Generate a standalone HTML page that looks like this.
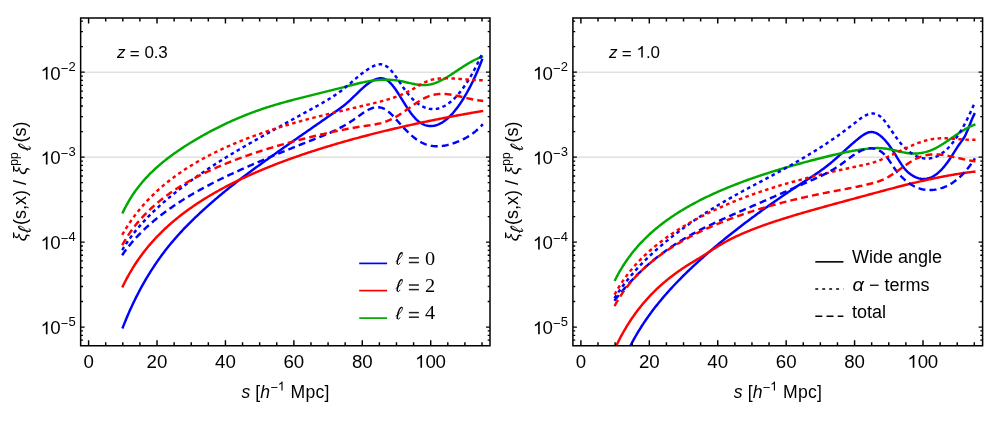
<!DOCTYPE html>
<html><head><meta charset="utf-8"><title>chart</title>
<style>html,body{margin:0;padding:0;background:#fff}</style></head>
<body><svg width="995" height="425" viewBox="0 0 995 425" style="display:block;will-change:transform">
<rect width="995" height="425" fill="#fff"/>
<g style="font-family:'Liberation Sans',sans-serif" fill="#000">
<line x1="80.65" x2="490.0" y1="72.20" y2="72.20" stroke="#d3d3d3" stroke-width="1"/>
<line x1="80.65" x2="490.0" y1="157.15" y2="157.15" stroke="#d3d3d3" stroke-width="1"/>
<clipPath id="cL"><rect x="80.65" y="18.0" width="409.35" height="327.75"/></clipPath>
<g clip-path="url(#cL)" fill="none" stroke-width="2.45" stroke-linecap="butt" stroke-linejoin="round">
<path d="M122.37,328.50 L122.81,327.39 L123.81,324.85 L124.81,322.36 L125.81,319.92 L126.81,317.52 L127.81,315.18 L128.81,312.87 L129.81,310.61 L130.81,308.40 L131.82,306.22 L132.82,304.08 L133.82,301.98 L134.82,299.92 L135.82,297.89 L136.82,295.90 L137.82,293.94 L138.82,292.02 L139.82,290.13 L140.82,288.27 L141.82,286.44 L142.82,284.63 L143.82,282.86 L144.82,281.12 L145.82,279.40 L146.82,277.71 L147.82,276.04 L148.82,274.40 L149.83,272.78 L150.83,271.19 L151.83,269.62 L152.83,268.08 L153.83,266.55 L154.83,265.05 L155.83,263.57 L156.83,262.11 L157.83,260.67 L158.83,259.25 L159.83,257.84 L160.83,256.46 L161.83,255.10 L162.83,253.75 L163.83,252.42 L164.83,251.11 L165.83,249.81 L166.84,248.53 L167.84,247.27 L168.84,246.02 L169.84,244.79 L170.84,243.57 L171.84,242.37 L172.84,241.18 L173.84,240.01 L174.84,238.85 L175.84,237.70 L176.84,236.57 L177.84,235.44 L178.84,234.34 L179.84,233.24 L180.84,232.16 L181.84,231.08 L182.84,230.02 L183.84,228.96 L184.85,227.92 L185.85,226.88 L186.85,225.86 L187.85,224.84 L188.85,223.83 L189.85,222.83 L190.85,221.84 L191.85,220.85 L192.85,219.87 L193.85,218.90 L194.85,217.93 L195.85,216.97 L196.85,216.02 L197.85,215.07 L198.85,214.13 L199.85,213.20 L200.85,212.27 L201.86,211.34 L202.86,210.42 L203.86,209.51 L204.86,208.60 L205.86,207.70 L206.86,206.80 L207.86,205.90 L208.86,205.02 L209.86,204.13 L210.86,203.25 L211.86,202.38 L212.86,201.51 L213.86,200.64 L214.86,199.78 L215.86,198.93 L216.86,198.07 L217.86,197.23 L218.86,196.38 L219.87,195.54 L220.87,194.71 L221.87,193.88 L222.87,193.05 L223.87,192.22 L224.87,191.40 L225.87,190.59 L226.87,189.78 L227.87,188.97 L228.87,188.16 L229.87,187.36 L230.87,186.56 L231.87,185.77 L232.87,184.98 L233.87,184.19 L234.87,183.41 L235.87,182.63 L236.88,181.85 L237.88,181.07 L238.88,180.30 L239.88,179.54 L240.88,178.77 L241.88,178.01 L242.88,177.25 L243.88,176.49 L244.88,175.74 L245.88,174.98 L246.88,174.23 L247.88,173.49 L248.88,172.74 L249.88,172.00 L250.88,171.26 L251.88,170.52 L252.88,169.78 L253.88,169.05 L254.89,168.31 L255.89,167.58 L256.89,166.85 L257.89,166.12 L258.89,165.39 L259.89,164.67 L260.89,163.94 L261.89,163.22 L262.89,162.50 L263.89,161.78 L264.89,161.06 L265.89,160.34 L266.89,159.63 L267.89,158.91 L268.89,158.20 L269.89,157.48 L270.89,156.77 L271.90,156.06 L272.90,155.35 L273.90,154.64 L274.90,153.93 L275.90,153.22 L276.90,152.51 L277.90,151.80 L278.90,151.10 L279.90,150.39 L280.90,149.69 L281.90,148.98 L282.90,148.28 L283.90,147.57 L284.90,146.87 L285.90,146.17 L286.90,145.47 L287.90,144.76 L288.90,144.06 L289.91,143.36 L290.91,142.66 L291.91,141.96 L292.91,141.26 L293.91,140.56 L294.91,139.86 L295.91,139.17 L296.91,138.47 L297.91,137.77 L298.91,137.07 L299.91,136.37 L300.91,135.67 L301.91,134.98 L302.91,134.28 L303.91,133.58 L304.91,132.88 L305.91,132.19 L306.92,131.49 L307.92,130.79 L308.92,130.10 L309.92,129.40 L310.92,128.70 L311.92,128.01 L312.92,127.31 L313.92,126.61 L314.92,125.92 L315.92,125.22 L316.92,124.52 L317.92,123.83 L318.92,123.13 L319.92,122.43 L320.92,121.74 L321.92,121.04 L322.92,120.35 L323.92,119.65 L324.93,118.96 L325.93,118.26 L326.93,117.57 L327.93,116.87 L328.93,116.18 L329.93,115.48 L330.93,114.79 L331.93,114.10 L332.93,113.41 L333.93,112.71 L334.93,112.02 L335.93,111.33 L336.93,110.64 L337.93,109.94 L338.93,109.24 L339.93,108.53 L340.93,107.80 L341.94,107.06 L342.94,106.30 L343.94,105.52 L344.94,104.72 L345.94,103.89 L346.94,103.04 L347.94,102.16 L348.94,101.25 L349.94,100.33 L350.94,99.38 L351.94,98.42 L352.94,97.45 L353.94,96.48 L354.94,95.50 L355.94,94.51 L356.94,93.53 L357.94,92.56 L358.94,91.59 L359.95,90.64 L360.95,89.70 L361.95,88.78 L362.95,87.88 L363.95,87.00 L364.95,86.14 L365.95,85.32 L366.95,84.52 L367.95,83.76 L368.95,83.03 L369.95,82.34 L370.95,81.69 L371.95,81.08 L372.95,80.52 L373.95,80.01 L374.95,79.56 L375.95,79.16 L376.96,78.83 L377.96,78.57 L378.96,78.39 L379.96,78.29 L380.96,78.27 L381.96,78.34 L382.96,78.50 L383.96,78.76 L384.96,79.12 L385.96,79.59 L386.96,80.17 L387.96,80.86 L388.96,81.66 L389.96,82.58 L390.96,83.59 L391.96,84.70 L392.96,85.90 L393.96,87.18 L394.97,88.54 L395.97,89.96 L396.97,91.44 L397.97,92.97 L398.97,94.55 L399.97,96.15 L400.97,97.77 L401.97,99.41 L402.97,101.04 L403.97,102.66 L404.97,104.27 L405.97,105.84 L406.97,107.39 L407.97,108.90 L408.97,110.37 L409.97,111.80 L410.97,113.17 L411.98,114.48 L412.98,115.74 L413.98,116.93 L414.98,118.05 L415.98,119.09 L416.98,120.05 L417.98,120.94 L418.98,121.75 L419.98,122.48 L420.98,123.14 L421.98,123.72 L422.98,124.24 L423.98,124.69 L424.98,125.07 L425.98,125.38 L426.98,125.63 L427.98,125.82 L428.98,125.95 L429.99,126.02 L430.99,126.03 L431.99,125.99 L432.99,125.89 L433.99,125.74 L434.99,125.53 L435.99,125.27 L436.99,124.96 L437.99,124.59 L438.99,124.17 L439.99,123.70 L440.99,123.17 L441.99,122.59 L442.99,121.97 L443.99,121.29 L444.99,120.56 L445.99,119.78 L447.00,118.96 L448.00,118.08 L449.00,117.15 L450.00,116.18 L451.00,115.15 L452.00,114.08 L453.00,112.97 L454.00,111.80 L455.00,110.59 L456.00,109.33 L457.00,108.03 L458.00,106.67 L459.00,105.28 L460.00,103.84 L461.00,102.35 L462.00,100.82 L463.00,99.25 L464.00,97.63 L465.01,95.96 L466.01,94.25 L467.01,92.49 L468.01,90.69 L469.01,88.84 L470.01,86.93 L471.01,84.98 L472.01,82.97 L473.01,80.91 L474.01,78.80 L475.01,76.63 L476.01,74.41 L477.01,72.14 L478.01,69.80 L479.01,67.41 L480.01,64.97 L481.01,62.46 L482.01,59.89 L482.45,58.77" stroke="#0000ff"/>
<path d="M122.29,287.41 L122.81,286.33 L123.81,284.27 L124.81,282.26 L125.81,280.31 L126.81,278.40 L127.81,276.55 L128.81,274.75 L129.81,272.99 L130.81,271.27 L131.82,269.59 L132.82,267.95 L133.82,266.35 L134.82,264.78 L135.82,263.25 L136.82,261.75 L137.82,260.28 L138.82,258.84 L139.82,257.43 L140.82,256.04 L141.82,254.68 L142.82,253.35 L143.82,252.04 L144.82,250.75 L145.82,249.49 L146.82,248.25 L147.82,247.03 L148.82,245.83 L149.83,244.65 L150.83,243.49 L151.83,242.35 L152.83,241.22 L153.83,240.12 L154.83,239.03 L155.83,237.95 L156.83,236.90 L157.83,235.85 L158.83,234.83 L159.83,233.81 L160.83,232.81 L161.83,231.83 L162.83,230.85 L163.83,229.90 L164.83,228.95 L165.83,228.01 L166.84,227.09 L167.84,226.18 L168.84,225.28 L169.84,224.39 L170.84,223.52 L171.84,222.65 L172.84,221.79 L173.84,220.94 L174.84,220.11 L175.84,219.28 L176.84,218.46 L177.84,217.65 L178.84,216.85 L179.84,216.06 L180.84,215.28 L181.84,214.51 L182.84,213.74 L183.84,212.98 L184.85,212.23 L185.85,211.49 L186.85,210.75 L187.85,210.03 L188.85,209.31 L189.85,208.59 L190.85,207.89 L191.85,207.19 L192.85,206.49 L193.85,205.81 L194.85,205.13 L195.85,204.45 L196.85,203.79 L197.85,203.12 L198.85,202.47 L199.85,201.82 L200.85,201.18 L201.86,200.54 L202.86,199.91 L203.86,199.28 L204.86,198.66 L205.86,198.04 L206.86,197.43 L207.86,196.82 L208.86,196.22 L209.86,195.62 L210.86,195.03 L211.86,194.45 L212.86,193.86 L213.86,193.29 L214.86,192.71 L215.86,192.15 L216.86,191.58 L217.86,191.02 L218.86,190.47 L219.87,189.91 L220.87,189.37 L221.87,188.82 L222.87,188.28 L223.87,187.75 L224.87,187.22 L225.87,186.69 L226.87,186.17 L227.87,185.65 L228.87,185.13 L229.87,184.62 L230.87,184.11 L231.87,183.60 L232.87,183.10 L233.87,182.60 L234.87,182.11 L235.87,181.61 L236.88,181.13 L237.88,180.64 L238.88,180.16 L239.88,179.68 L240.88,179.20 L241.88,178.73 L242.88,178.26 L243.88,177.79 L244.88,177.33 L245.88,176.87 L246.88,176.41 L247.88,175.95 L248.88,175.50 L249.88,175.05 L250.88,174.60 L251.88,174.16 L252.88,173.72 L253.88,173.28 L254.89,172.84 L255.89,172.41 L256.89,171.98 L257.89,171.55 L258.89,171.12 L259.89,170.70 L260.89,170.28 L261.89,169.86 L262.89,169.44 L263.89,169.02 L264.89,168.61 L265.89,168.20 L266.89,167.80 L267.89,167.39 L268.89,166.99 L269.89,166.59 L270.89,166.19 L271.90,165.79 L272.90,165.40 L273.90,165.00 L274.90,164.61 L275.90,164.22 L276.90,163.84 L277.90,163.45 L278.90,163.07 L279.90,162.69 L280.90,162.31 L281.90,161.94 L282.90,161.56 L283.90,161.19 L284.90,160.82 L285.90,160.45 L286.90,160.08 L287.90,159.72 L288.90,159.35 L289.91,158.99 L290.91,158.63 L291.91,158.27 L292.91,157.92 L293.91,157.56 L294.91,157.21 L295.91,156.86 L296.91,156.51 L297.91,156.16 L298.91,155.81 L299.91,155.47 L300.91,155.12 L301.91,154.78 L302.91,154.44 L303.91,154.10 L304.91,153.77 L305.91,153.43 L306.92,153.10 L307.92,152.76 L308.92,152.43 L309.92,152.10 L310.92,151.78 L311.92,151.45 L312.92,151.12 L313.92,150.80 L314.92,150.48 L315.92,150.16 L316.92,149.84 L317.92,149.52 L318.92,149.20 L319.92,148.89 L320.92,148.57 L321.92,148.26 L322.92,147.95 L323.92,147.64 L324.93,147.33 L325.93,147.02 L326.93,146.72 L327.93,146.41 L328.93,146.11 L329.93,145.81 L330.93,145.51 L331.93,145.21 L332.93,144.91 L333.93,144.61 L334.93,144.32 L335.93,144.02 L336.93,143.73 L337.93,143.44 L338.93,143.15 L339.93,142.86 L340.93,142.57 L341.94,142.28 L342.94,141.99 L343.94,141.71 L344.94,141.43 L345.94,141.14 L346.94,140.86 L347.94,140.58 L348.94,140.30 L349.94,140.02 L350.94,139.75 L351.94,139.47 L352.94,139.19 L353.94,138.92 L354.94,138.65 L355.94,138.38 L356.94,138.10 L357.94,137.83 L358.94,137.57 L359.95,137.30 L360.95,137.03 L361.95,136.77 L362.95,136.50 L363.95,136.24 L364.95,135.98 L365.95,135.71 L366.95,135.45 L367.95,135.19 L368.95,134.94 L369.95,134.68 L370.95,134.42 L371.95,134.17 L372.95,133.91 L373.95,133.66 L374.95,133.40 L375.95,133.15 L376.96,132.90 L377.96,132.65 L378.96,132.40 L379.96,132.15 L380.96,131.91 L381.96,131.66 L382.96,131.41 L383.96,131.17 L384.96,130.93 L385.96,130.68 L386.96,130.44 L387.96,130.20 L388.96,129.96 L389.96,129.72 L390.96,129.48 L391.96,129.24 L392.96,129.01 L393.96,128.77 L394.97,128.53 L395.97,128.30 L396.97,128.07 L397.97,127.83 L398.97,127.60 L399.97,127.37 L400.97,127.14 L401.97,126.91 L402.97,126.68 L403.97,126.45 L404.97,126.23 L405.97,126.00 L406.97,125.77 L407.97,125.55 L408.97,125.33 L409.97,125.10 L410.97,124.88 L411.98,124.66 L412.98,124.44 L413.98,124.22 L414.98,124.00 L415.98,123.78 L416.98,123.56 L417.98,123.35 L418.98,123.13 L419.98,122.91 L420.98,122.70 L421.98,122.49 L422.98,122.27 L423.98,122.06 L424.98,121.85 L425.98,121.64 L426.98,121.43 L427.98,121.22 L428.98,121.01 L429.99,120.81 L430.99,120.60 L431.99,120.40 L432.99,120.19 L433.99,119.99 L434.99,119.78 L435.99,119.58 L436.99,119.38 L437.99,119.18 L438.99,118.98 L439.99,118.78 L440.99,118.58 L441.99,118.38 L442.99,118.19 L443.99,117.99 L444.99,117.80 L445.99,117.60 L447.00,117.41 L448.00,117.21 L449.00,117.02 L450.00,116.83 L451.00,116.64 L452.00,116.45 L453.00,116.26 L454.00,116.07 L455.00,115.89 L456.00,115.70 L457.00,115.51 L458.00,115.33 L459.00,115.14 L460.00,114.96 L461.00,114.78 L462.00,114.60 L463.00,114.42 L464.00,114.23 L465.01,114.06 L466.01,113.88 L467.01,113.70 L468.01,113.52 L469.01,113.34 L470.01,113.17 L471.01,112.99 L472.01,112.82 L473.01,112.64 L474.01,112.47 L475.01,112.30 L476.01,112.13 L477.01,111.96 L478.01,111.79 L479.01,111.62 L480.01,111.45 L481.01,111.28 L482.01,111.12 L483.20,110.92" stroke="#ff0000"/>
<path d="M122.29,213.58 L122.81,212.49 L123.81,210.40 L124.81,208.39 L125.81,206.46 L126.81,204.60 L127.81,202.81 L128.81,201.07 L129.81,199.40 L130.81,197.78 L131.82,196.21 L132.82,194.68 L133.82,193.20 L134.82,191.77 L135.82,190.37 L136.82,189.01 L137.82,187.69 L138.82,186.40 L139.82,185.14 L140.82,183.91 L141.82,182.71 L142.82,181.54 L143.82,180.39 L144.82,179.27 L145.82,178.17 L146.82,177.09 L147.82,176.04 L148.82,175.00 L149.83,173.98 L150.83,172.99 L151.83,172.01 L152.83,171.05 L153.83,170.10 L154.83,169.17 L155.83,168.25 L156.83,167.35 L157.83,166.47 L158.83,165.59 L159.83,164.73 L160.83,163.88 L161.83,163.05 L162.83,162.22 L163.83,161.41 L164.83,160.61 L165.83,159.82 L166.84,159.03 L167.84,158.26 L168.84,157.50 L169.84,156.74 L170.84,156.00 L171.84,155.26 L172.84,154.53 L173.84,153.81 L174.84,153.10 L175.84,152.39 L176.84,151.69 L177.84,151.00 L178.84,150.32 L179.84,149.64 L180.84,148.97 L181.84,148.30 L182.84,147.64 L183.84,146.99 L184.85,146.34 L185.85,145.70 L186.85,145.07 L187.85,144.44 L188.85,143.81 L189.85,143.19 L190.85,142.57 L191.85,141.96 L192.85,141.36 L193.85,140.76 L194.85,140.16 L195.85,139.57 L196.85,138.98 L197.85,138.40 L198.85,137.82 L199.85,137.24 L200.85,136.67 L201.86,136.10 L202.86,135.53 L203.86,134.97 L204.86,134.42 L205.86,133.86 L206.86,133.32 L207.86,132.77 L208.86,132.23 L209.86,131.69 L210.86,131.16 L211.86,130.63 L212.86,130.11 L213.86,129.59 L214.86,129.07 L215.86,128.56 L216.86,128.05 L217.86,127.54 L218.86,127.04 L219.87,126.55 L220.87,126.05 L221.87,125.56 L222.87,125.08 L223.87,124.60 L224.87,124.12 L225.87,123.65 L226.87,123.18 L227.87,122.71 L228.87,122.25 L229.87,121.80 L230.87,121.34 L231.87,120.89 L232.87,120.45 L233.87,120.01 L234.87,119.57 L235.87,119.13 L236.88,118.70 L237.88,118.28 L238.88,117.85 L239.88,117.43 L240.88,117.02 L241.88,116.61 L242.88,116.20 L243.88,115.79 L244.88,115.39 L245.88,115.00 L246.88,114.60 L247.88,114.21 L248.88,113.82 L249.88,113.44 L250.88,113.06 L251.88,112.69 L252.88,112.31 L253.88,111.94 L254.89,111.58 L255.89,111.22 L256.89,110.86 L257.89,110.50 L258.89,110.15 L259.89,109.80 L260.89,109.45 L261.89,109.11 L262.89,108.77 L263.89,108.44 L264.89,108.10 L265.89,107.77 L266.89,107.45 L267.89,107.12 L268.89,106.80 L269.89,106.49 L270.89,106.17 L271.90,105.86 L272.90,105.55 L273.90,105.25 L274.90,104.95 L275.90,104.65 L276.90,104.35 L277.90,104.06 L278.90,103.77 L279.90,103.48 L280.90,103.20 L281.90,102.91 L282.90,102.63 L283.90,102.36 L284.90,102.08 L285.90,101.81 L286.90,101.53 L287.90,101.26 L288.90,100.99 L289.91,100.73 L290.91,100.46 L291.91,100.20 L292.91,99.93 L293.91,99.67 L294.91,99.41 L295.91,99.15 L296.91,98.90 L297.91,98.64 L298.91,98.38 L299.91,98.13 L300.91,97.87 L301.91,97.62 L302.91,97.37 L303.91,97.12 L304.91,96.87 L305.91,96.61 L306.92,96.36 L307.92,96.11 L308.92,95.87 L309.92,95.62 L310.92,95.37 L311.92,95.12 L312.92,94.87 L313.92,94.62 L314.92,94.37 L315.92,94.13 L316.92,93.88 L317.92,93.63 L318.92,93.38 L319.92,93.13 L320.92,92.89 L321.92,92.64 L322.92,92.39 L323.92,92.14 L324.93,91.89 L325.93,91.64 L326.93,91.39 L327.93,91.14 L328.93,90.89 L329.93,90.64 L330.93,90.39 L331.93,90.14 L332.93,89.89 L333.93,89.63 L334.93,89.38 L335.93,89.13 L336.93,88.87 L337.93,88.62 L338.93,88.36 L339.93,88.10 L340.93,87.85 L341.94,87.59 L342.94,87.33 L343.94,87.07 L344.94,86.81 L345.94,86.55 L346.94,86.29 L347.94,86.03 L348.94,85.76 L349.94,85.50 L350.94,85.25 L351.94,84.99 L352.94,84.73 L353.94,84.48 L354.94,84.23 L355.94,83.98 L356.94,83.74 L357.94,83.50 L358.94,83.27 L359.95,83.04 L360.95,82.81 L361.95,82.59 L362.95,82.38 L363.95,82.17 L364.95,81.97 L365.95,81.78 L366.95,81.59 L367.95,81.41 L368.95,81.24 L369.95,81.07 L370.95,80.92 L371.95,80.77 L372.95,80.63 L373.95,80.50 L374.95,80.38 L375.95,80.27 L376.96,80.16 L377.96,80.07 L378.96,79.99 L379.96,79.92 L380.96,79.86 L381.96,79.81 L382.96,79.77 L383.96,79.74 L384.96,79.72 L385.96,79.71 L386.96,79.72 L387.96,79.74 L388.96,79.77 L389.96,79.81 L390.96,79.86 L391.96,79.93 L392.96,80.01 L393.96,80.10 L394.97,80.21 L395.97,80.32 L396.97,80.46 L397.97,80.60 L398.97,80.76 L399.97,80.93 L400.97,81.12 L401.97,81.32 L402.97,81.53 L403.97,81.75 L404.97,81.98 L405.97,82.21 L406.97,82.45 L407.97,82.69 L408.97,82.92 L409.97,83.16 L410.97,83.39 L411.98,83.61 L412.98,83.82 L413.98,84.02 L414.98,84.21 L415.98,84.39 L416.98,84.55 L417.98,84.69 L418.98,84.81 L419.98,84.91 L420.98,84.99 L421.98,85.05 L422.98,85.07 L423.98,85.08 L424.98,85.05 L425.98,84.99 L426.98,84.90 L427.98,84.78 L428.98,84.63 L429.99,84.45 L430.99,84.24 L431.99,84.00 L432.99,83.73 L433.99,83.43 L434.99,83.10 L435.99,82.74 L436.99,82.35 L437.99,81.93 L438.99,81.48 L439.99,81.01 L440.99,80.52 L441.99,80.01 L442.99,79.48 L443.99,78.93 L444.99,78.36 L445.99,77.78 L447.00,77.18 L448.00,76.57 L449.00,75.95 L450.00,75.32 L451.00,74.68 L452.00,74.03 L453.00,73.37 L454.00,72.71 L455.00,72.05 L456.00,71.39 L457.00,70.72 L458.00,70.05 L459.00,69.39 L460.00,68.72 L461.00,68.06 L462.00,67.41 L463.00,66.76 L464.00,66.11 L465.01,65.48 L466.01,64.85 L467.01,64.23 L468.01,63.62 L469.01,63.03 L470.01,62.44 L471.01,61.87 L472.01,61.31 L473.01,60.77 L474.01,60.25 L475.01,59.74 L476.01,59.25 L477.01,58.78 L478.01,58.32 L479.01,57.89 L480.01,57.48 L481.01,57.09 L482.01,56.73 L483.14,56.32" stroke="#00a800"/>
<path d="M122.18,250.08 L122.81,249.06 L123.81,247.42 L124.81,245.83 L125.81,244.28 L126.81,242.78 L127.81,241.31 L128.81,239.87 L129.81,238.47 L130.81,237.10 L131.82,235.75 L132.82,234.44 L133.82,233.15 L134.82,231.88 L135.82,230.64 L136.82,229.42 L137.82,228.22 L138.82,227.04 L139.82,225.88 L140.82,224.74 L141.82,223.62 L142.82,222.51 L143.82,221.41 L144.82,220.34 L145.82,219.28 L146.82,218.23 L147.82,217.19 L148.82,216.17 L149.83,215.16 L150.83,214.16 L151.83,213.17 L152.83,212.20 L153.83,211.23 L154.83,210.28 L155.83,209.34 L156.83,208.40 L157.83,207.48 L158.83,206.56 L159.83,205.65 L160.83,204.75 L161.83,203.86 L162.83,202.98 L163.83,202.11 L164.83,201.24 L165.83,200.38 L166.84,199.53 L167.84,198.68 L168.84,197.84 L169.84,197.01 L170.84,196.18 L171.84,195.36 L172.84,194.55 L173.84,193.74 L174.84,192.94 L175.84,192.14 L176.84,191.35 L177.84,190.57 L178.84,189.78 L179.84,189.01 L180.84,188.24 L181.84,187.47 L182.84,186.71 L183.84,185.96 L184.85,185.21 L185.85,184.46 L186.85,183.72 L187.85,182.98 L188.85,182.25 L189.85,181.52 L190.85,180.79 L191.85,180.07 L192.85,179.36 L193.85,178.64 L194.85,177.93 L195.85,177.23 L196.85,176.53 L197.85,175.83 L198.85,175.13 L199.85,174.44 L200.85,173.75 L201.86,173.07 L202.86,172.39 L203.86,171.71 L204.86,171.03 L205.86,170.36 L206.86,169.69 L207.86,169.03 L208.86,168.37 L209.86,167.71 L210.86,167.05 L211.86,166.40 L212.86,165.74 L213.86,165.10 L214.86,164.45 L215.86,163.81 L216.86,163.17 L217.86,162.53 L218.86,161.90 L219.87,161.26 L220.87,160.63 L221.87,160.01 L222.87,159.38 L223.87,158.76 L224.87,158.14 L225.87,157.52 L226.87,156.91 L227.87,156.29 L228.87,155.68 L229.87,155.07 L230.87,154.47 L231.87,153.86 L232.87,153.26 L233.87,152.66 L234.87,152.06 L235.87,151.47 L236.88,150.88 L237.88,150.28 L238.88,149.69 L239.88,149.11 L240.88,148.52 L241.88,147.94 L242.88,147.35 L243.88,146.77 L244.88,146.19 L245.88,145.61 L246.88,145.04 L247.88,144.46 L248.88,143.89 L249.88,143.31 L250.88,142.74 L251.88,142.17 L252.88,141.60 L253.88,141.03 L254.89,140.46 L255.89,139.90 L256.89,139.33 L257.89,138.76 L258.89,138.20 L259.89,137.64 L260.89,137.07 L261.89,136.51 L262.89,135.95 L263.89,135.39 L264.89,134.83 L265.89,134.27 L266.89,133.71 L267.89,133.15 L268.89,132.59 L269.89,132.04 L270.89,131.48 L271.90,130.92 L272.90,130.36 L273.90,129.81 L274.90,129.25 L275.90,128.70 L276.90,128.14 L277.90,127.59 L278.90,127.03 L279.90,126.48 L280.90,125.93 L281.90,125.37 L282.90,124.82 L283.90,124.26 L284.90,123.71 L285.90,123.16 L286.90,122.61 L287.90,122.05 L288.90,121.50 L289.91,120.95 L290.91,120.40 L291.91,119.84 L292.91,119.29 L293.91,118.74 L294.91,118.19 L295.91,117.63 L296.91,117.08 L297.91,116.53 L298.91,115.98 L299.91,115.42 L300.91,114.87 L301.91,114.32 L302.91,113.77 L303.91,113.21 L304.91,112.66 L305.91,112.11 L306.92,111.56 L307.92,111.00 L308.92,110.45 L309.92,109.90 L310.92,109.35 L311.92,108.79 L312.92,108.24 L313.92,107.69 L314.92,107.13 L315.92,106.58 L316.92,106.02 L317.92,105.47 L318.92,104.91 L319.92,104.35 L320.92,103.78 L321.92,103.22 L322.92,102.64 L323.92,102.06 L324.93,101.48 L325.93,100.89 L326.93,100.29 L327.93,99.69 L328.93,99.07 L329.93,98.45 L330.93,97.82 L331.93,97.18 L332.93,96.53 L333.93,95.87 L334.93,95.20 L335.93,94.52 L336.93,93.82 L337.93,93.12 L338.93,92.40 L339.93,91.67 L340.93,90.92 L341.94,90.16 L342.94,89.39 L343.94,88.61 L344.94,87.81 L345.94,86.99 L346.94,86.16 L347.94,85.32 L348.94,84.47 L349.94,83.61 L350.94,82.75 L351.94,81.89 L352.94,81.02 L353.94,80.16 L354.94,79.30 L355.94,78.44 L356.94,77.59 L357.94,76.75 L358.94,75.93 L359.95,75.11 L360.95,74.31 L361.95,73.52 L362.95,72.75 L363.95,72.01 L364.95,71.28 L365.95,70.57 L366.95,69.89 L367.95,69.23 L368.95,68.60 L369.95,68.00 L370.95,67.43 L371.95,66.89 L372.95,66.38 L373.95,65.91 L374.95,65.48 L375.95,65.10 L376.96,64.79 L377.96,64.55 L378.96,64.39 L379.96,64.31 L380.96,64.33 L381.96,64.45 L382.96,64.67 L383.96,64.99 L384.96,65.43 L385.96,65.96 L386.96,66.61 L387.96,67.38 L388.96,68.25 L389.96,69.23 L390.96,70.30 L391.96,71.45 L392.96,72.68 L393.96,73.97 L394.97,75.32 L395.97,76.71 L396.97,78.14 L397.97,79.60 L398.97,81.08 L399.97,82.57 L400.97,84.06 L401.97,85.54 L402.97,87.01 L403.97,88.45 L404.97,89.87 L405.97,91.24 L406.97,92.56 L407.97,93.83 L408.97,95.05 L409.97,96.21 L410.97,97.32 L411.98,98.38 L412.98,99.38 L413.98,100.33 L414.98,101.24 L415.98,102.09 L416.98,102.89 L417.98,103.64 L418.98,104.34 L419.98,104.99 L420.98,105.59 L421.98,106.15 L422.98,106.65 L423.98,107.11 L424.98,107.52 L425.98,107.88 L426.98,108.19 L427.98,108.46 L428.98,108.68 L429.99,108.85 L430.99,108.97 L431.99,109.04 L432.99,109.07 L433.99,109.05 L434.99,108.98 L435.99,108.87 L436.99,108.70 L437.99,108.49 L438.99,108.24 L439.99,107.93 L440.99,107.58 L441.99,107.18 L442.99,106.74 L443.99,106.25 L444.99,105.71 L445.99,105.13 L447.00,104.50 L448.00,103.82 L449.00,103.10 L450.00,102.33 L451.00,101.52 L452.00,100.66 L453.00,99.75 L454.00,98.80 L455.00,97.81 L456.00,96.77 L457.00,95.68 L458.00,94.55 L459.00,93.37 L460.00,92.15 L461.00,90.88 L462.00,89.57 L463.00,88.21 L464.00,86.81 L465.01,85.36 L466.01,83.87 L467.01,82.34 L468.01,80.76 L469.01,79.14 L470.01,77.47 L471.01,75.76 L472.01,74.01 L473.01,72.21 L474.01,70.37 L475.01,68.48 L476.01,66.56 L477.01,64.59 L478.01,62.57 L479.01,60.52 L480.01,58.42 L481.01,56.28 L482.01,54.09 L482.51,53.00" stroke="#0000ff" stroke-dasharray="3.6 3.35"/>
<path d="M122.20,234.78 L122.81,233.75 L123.81,232.03 L124.81,230.36 L125.81,228.73 L126.81,227.13 L127.81,225.57 L128.81,224.05 L129.81,222.55 L130.81,221.09 L131.82,219.66 L132.82,218.26 L133.82,216.89 L134.82,215.55 L135.82,214.23 L136.82,212.93 L137.82,211.66 L138.82,210.42 L139.82,209.19 L140.82,207.99 L141.82,206.81 L142.82,205.65 L143.82,204.51 L144.82,203.39 L145.82,202.29 L146.82,201.20 L147.82,200.13 L148.82,199.08 L149.83,198.05 L150.83,197.03 L151.83,196.03 L152.83,195.04 L153.83,194.07 L154.83,193.11 L155.83,192.17 L156.83,191.24 L157.83,190.32 L158.83,189.42 L159.83,188.52 L160.83,187.64 L161.83,186.78 L162.83,185.92 L163.83,185.07 L164.83,184.24 L165.83,183.42 L166.84,182.60 L167.84,181.80 L168.84,181.01 L169.84,180.22 L170.84,179.45 L171.84,178.69 L172.84,177.93 L173.84,177.19 L174.84,176.45 L175.84,175.72 L176.84,175.00 L177.84,174.29 L178.84,173.59 L179.84,172.89 L180.84,172.20 L181.84,171.52 L182.84,170.85 L183.84,170.18 L184.85,169.52 L185.85,168.87 L186.85,168.23 L187.85,167.59 L188.85,166.96 L189.85,166.33 L190.85,165.71 L191.85,165.10 L192.85,164.50 L193.85,163.89 L194.85,163.30 L195.85,162.71 L196.85,162.13 L197.85,161.55 L198.85,160.98 L199.85,160.41 L200.85,159.85 L201.86,159.30 L202.86,158.75 L203.86,158.20 L204.86,157.66 L205.86,157.13 L206.86,156.60 L207.86,156.07 L208.86,155.55 L209.86,155.03 L210.86,154.52 L211.86,154.01 L212.86,153.51 L213.86,153.01 L214.86,152.51 L215.86,152.02 L216.86,151.54 L217.86,151.06 L218.86,150.58 L219.87,150.10 L220.87,149.63 L221.87,149.17 L222.87,148.70 L223.87,148.24 L224.87,147.79 L225.87,147.34 L226.87,146.89 L227.87,146.44 L228.87,146.00 L229.87,145.56 L230.87,145.13 L231.87,144.70 L232.87,144.27 L233.87,143.84 L234.87,143.42 L235.87,143.01 L236.88,142.59 L237.88,142.18 L238.88,141.77 L239.88,141.36 L240.88,140.96 L241.88,140.56 L242.88,140.16 L243.88,139.77 L244.88,139.38 L245.88,138.99 L246.88,138.60 L247.88,138.22 L248.88,137.84 L249.88,137.46 L250.88,137.08 L251.88,136.71 L252.88,136.34 L253.88,135.97 L254.89,135.61 L255.89,135.24 L256.89,134.88 L257.89,134.52 L258.89,134.17 L259.89,133.82 L260.89,133.46 L261.89,133.12 L262.89,132.77 L263.89,132.42 L264.89,132.08 L265.89,131.74 L266.89,131.40 L267.89,131.07 L268.89,130.74 L269.89,130.40 L270.89,130.08 L271.90,129.75 L272.90,129.42 L273.90,129.10 L274.90,128.78 L275.90,128.46 L276.90,128.14 L277.90,127.83 L278.90,127.51 L279.90,127.20 L280.90,126.89 L281.90,126.58 L282.90,126.28 L283.90,125.97 L284.90,125.67 L285.90,125.37 L286.90,125.07 L287.90,124.78 L288.90,124.48 L289.91,124.19 L290.91,123.89 L291.91,123.60 L292.91,123.31 L293.91,123.03 L294.91,122.74 L295.91,122.46 L296.91,122.18 L297.91,121.90 L298.91,121.62 L299.91,121.34 L300.91,121.06 L301.91,120.79 L302.91,120.52 L303.91,120.24 L304.91,119.97 L305.91,119.71 L306.92,119.44 L307.92,119.17 L308.92,118.91 L309.92,118.65 L310.92,118.38 L311.92,118.12 L312.92,117.87 L313.92,117.61 L314.92,117.35 L315.92,117.10 L316.92,116.84 L317.92,116.59 L318.92,116.34 L319.92,116.09 L320.92,115.84 L321.92,115.59 L322.92,115.35 L323.92,115.10 L324.93,114.86 L325.93,114.61 L326.93,114.37 L327.93,114.12 L328.93,113.88 L329.93,113.64 L330.93,113.40 L331.93,113.16 L332.93,112.92 L333.93,112.68 L334.93,112.44 L335.93,112.20 L336.93,111.96 L337.93,111.73 L338.93,111.49 L339.93,111.25 L340.93,111.01 L341.94,110.77 L342.94,110.54 L343.94,110.30 L344.94,110.06 L345.94,109.83 L346.94,109.59 L347.94,109.35 L348.94,109.12 L349.94,108.88 L350.94,108.64 L351.94,108.40 L352.94,108.17 L353.94,107.93 L354.94,107.69 L355.94,107.45 L356.94,107.21 L357.94,106.98 L358.94,106.74 L359.95,106.50 L360.95,106.26 L361.95,106.02 L362.95,105.78 L363.95,105.54 L364.95,105.29 L365.95,105.05 L366.95,104.81 L367.95,104.57 L368.95,104.33 L369.95,104.08 L370.95,103.84 L371.95,103.59 L372.95,103.35 L373.95,103.10 L374.95,102.86 L375.95,102.61 L376.96,102.36 L377.96,102.11 L378.96,101.86 L379.96,101.61 L380.96,101.35 L381.96,101.09 L382.96,100.82 L383.96,100.55 L384.96,100.28 L385.96,100.00 L386.96,99.72 L387.96,99.42 L388.96,99.13 L389.96,98.82 L390.96,98.51 L391.96,98.19 L392.96,97.86 L393.96,97.52 L394.97,97.18 L395.97,96.82 L396.97,96.46 L397.97,96.08 L398.97,95.70 L399.97,95.30 L400.97,94.90 L401.97,94.48 L402.97,94.05 L403.97,93.61 L404.97,93.16 L405.97,92.69 L406.97,92.21 L407.97,91.72 L408.97,91.21 L409.97,90.70 L410.97,90.16 L411.98,89.62 L412.98,89.06 L413.98,88.48 L414.98,87.89 L415.98,87.29 L416.98,86.68 L417.98,86.06 L418.98,85.46 L419.98,84.86 L420.98,84.29 L421.98,83.73 L422.98,83.20 L423.98,82.69 L424.98,82.21 L425.98,81.76 L426.98,81.33 L427.98,80.94 L428.98,80.58 L429.99,80.24 L430.99,79.95 L431.99,79.68 L432.99,79.45 L433.99,79.24 L434.99,79.06 L435.99,78.91 L436.99,78.78 L437.99,78.67 L438.99,78.57 L439.99,78.49 L440.99,78.43 L441.99,78.38 L442.99,78.34 L443.99,78.32 L444.99,78.30 L445.99,78.29 L447.00,78.30 L448.00,78.31 L449.00,78.33 L450.00,78.36 L451.00,78.40 L452.00,78.44 L453.00,78.49 L454.00,78.54 L455.00,78.60 L456.00,78.66 L457.00,78.73 L458.00,78.80 L459.00,78.87 L460.00,78.95 L461.00,79.02 L462.00,79.10 L463.00,79.18 L464.00,79.26 L465.01,79.34 L466.01,79.41 L467.01,79.49 L468.01,79.57 L469.01,79.64 L470.01,79.71 L471.01,79.78 L472.01,79.84 L473.01,79.90 L474.01,79.95 L475.01,80.01 L476.01,80.05 L477.01,80.09 L478.01,80.13 L479.01,80.15 L480.01,80.18 L481.01,80.19 L482.01,80.20 L483.21,80.21" stroke="#ff0000" stroke-dasharray="3.6 3.35"/>
<path d="M122.12,255.17 L122.81,254.19 L123.81,252.78 L124.81,251.39 L125.81,250.04 L126.81,248.72 L127.81,247.43 L128.81,246.17 L129.81,244.93 L130.81,243.72 L131.82,242.53 L132.82,241.37 L133.82,240.23 L134.82,239.10 L135.82,238.00 L136.82,236.92 L137.82,235.86 L138.82,234.81 L139.82,233.78 L140.82,232.77 L141.82,231.78 L142.82,230.79 L143.82,229.83 L144.82,228.88 L145.82,227.94 L146.82,227.01 L147.82,226.10 L148.82,225.20 L149.83,224.31 L150.83,223.43 L151.83,222.57 L152.83,221.71 L153.83,220.87 L154.83,220.04 L155.83,219.21 L156.83,218.40 L157.83,217.59 L158.83,216.80 L159.83,216.01 L160.83,215.23 L161.83,214.47 L162.83,213.70 L163.83,212.95 L164.83,212.21 L165.83,211.47 L166.84,210.74 L167.84,210.01 L168.84,209.30 L169.84,208.59 L170.84,207.89 L171.84,207.19 L172.84,206.50 L173.84,205.82 L174.84,205.14 L175.84,204.47 L176.84,203.81 L177.84,203.15 L178.84,202.50 L179.84,201.85 L180.84,201.21 L181.84,200.57 L182.84,199.94 L183.84,199.31 L184.85,198.69 L185.85,198.07 L186.85,197.46 L187.85,196.85 L188.85,196.25 L189.85,195.65 L190.85,195.06 L191.85,194.47 L192.85,193.88 L193.85,193.30 L194.85,192.73 L195.85,192.16 L196.85,191.59 L197.85,191.02 L198.85,190.46 L199.85,189.91 L200.85,189.35 L201.86,188.80 L202.86,188.26 L203.86,187.72 L204.86,187.18 L205.86,186.64 L206.86,186.11 L207.86,185.58 L208.86,185.06 L209.86,184.54 L210.86,184.02 L211.86,183.51 L212.86,182.99 L213.86,182.48 L214.86,181.98 L215.86,181.48 L216.86,180.98 L217.86,180.48 L218.86,179.98 L219.87,179.49 L220.87,179.00 L221.87,178.52 L222.87,178.03 L223.87,177.55 L224.87,177.07 L225.87,176.59 L226.87,176.12 L227.87,175.65 L228.87,175.18 L229.87,174.71 L230.87,174.24 L231.87,173.78 L232.87,173.31 L233.87,172.85 L234.87,172.39 L235.87,171.93 L236.88,171.48 L237.88,171.02 L238.88,170.57 L239.88,170.12 L240.88,169.67 L241.88,169.22 L242.88,168.78 L243.88,168.33 L244.88,167.89 L245.88,167.44 L246.88,167.00 L247.88,166.56 L248.88,166.12 L249.88,165.69 L250.88,165.25 L251.88,164.82 L252.88,164.38 L253.88,163.95 L254.89,163.52 L255.89,163.09 L256.89,162.66 L257.89,162.23 L258.89,161.80 L259.89,161.37 L260.89,160.95 L261.89,160.52 L262.89,160.10 L263.89,159.68 L264.89,159.25 L265.89,158.83 L266.89,158.41 L267.89,157.99 L268.89,157.57 L269.89,157.16 L270.89,156.74 L271.90,156.32 L272.90,155.91 L273.90,155.49 L274.90,155.08 L275.90,154.66 L276.90,154.25 L277.90,153.84 L278.90,153.43 L279.90,153.02 L280.90,152.61 L281.90,152.20 L282.90,151.79 L283.90,151.38 L284.90,150.97 L285.90,150.56 L286.90,150.16 L287.90,149.75 L288.90,149.34 L289.91,148.94 L290.91,148.53 L291.91,148.13 L292.91,147.73 L293.91,147.32 L294.91,146.92 L295.91,146.52 L296.91,146.12 L297.91,145.71 L298.91,145.31 L299.91,144.91 L300.91,144.51 L301.91,144.11 L302.91,143.71 L303.91,143.31 L304.91,142.92 L305.91,142.52 L306.92,142.12 L307.92,141.72 L308.92,141.33 L309.92,140.93 L310.92,140.53 L311.92,140.14 L312.92,139.74 L313.92,139.35 L314.92,138.95 L315.92,138.56 L316.92,138.16 L317.92,137.77 L318.92,137.37 L319.92,136.97 L320.92,136.57 L321.92,136.17 L322.92,135.76 L323.92,135.35 L324.93,134.94 L325.93,134.52 L326.93,134.10 L327.93,133.67 L328.93,133.23 L329.93,132.79 L330.93,132.34 L331.93,131.89 L332.93,131.43 L333.93,130.96 L334.93,130.48 L335.93,129.99 L336.93,129.50 L337.93,128.99 L338.93,128.48 L339.93,127.96 L340.93,127.43 L341.94,126.88 L342.94,126.33 L343.94,125.77 L344.94,125.19 L345.94,124.60 L346.94,124.01 L347.94,123.40 L348.94,122.78 L349.94,122.14 L350.94,121.50 L351.94,120.84 L352.94,120.17 L353.94,119.48 L354.94,118.79 L355.94,118.07 L356.94,117.35 L357.94,116.62 L358.94,115.89 L359.95,115.17 L360.95,114.45 L361.95,113.74 L362.95,113.05 L363.95,112.38 L364.95,111.73 L365.95,111.11 L366.95,110.53 L367.95,109.98 L368.95,109.48 L369.95,109.01 L370.95,108.60 L371.95,108.23 L372.95,107.92 L373.95,107.67 L374.95,107.47 L375.95,107.33 L376.96,107.26 L377.96,107.25 L378.96,107.31 L379.96,107.45 L380.96,107.65 L381.96,107.93 L382.96,108.28 L383.96,108.72 L384.96,109.23 L385.96,109.83 L386.96,110.51 L387.96,111.27 L388.96,112.10 L389.96,112.99 L390.96,113.93 L391.96,114.92 L392.96,115.95 L393.96,117.01 L394.97,118.10 L395.97,119.21 L396.97,120.34 L397.97,121.47 L398.97,122.59 L399.97,123.72 L400.97,124.83 L401.97,125.93 L402.97,127.02 L403.97,128.08 L404.97,129.13 L405.97,130.16 L406.97,131.17 L407.97,132.16 L408.97,133.12 L409.97,134.05 L410.97,134.96 L411.98,135.83 L412.98,136.68 L413.98,137.50 L414.98,138.28 L415.98,139.03 L416.98,139.74 L417.98,140.41 L418.98,141.05 L419.98,141.65 L420.98,142.21 L421.98,142.73 L422.98,143.21 L423.98,143.65 L424.98,144.05 L425.98,144.42 L426.98,144.75 L427.98,145.05 L428.98,145.31 L429.99,145.54 L430.99,145.74 L431.99,145.90 L432.99,146.04 L433.99,146.15 L434.99,146.22 L435.99,146.27 L436.99,146.29 L437.99,146.29 L438.99,146.26 L439.99,146.20 L440.99,146.12 L441.99,146.01 L442.99,145.88 L443.99,145.73 L444.99,145.56 L445.99,145.36 L447.00,145.15 L448.00,144.91 L449.00,144.65 L450.00,144.38 L451.00,144.09 L452.00,143.78 L453.00,143.45 L454.00,143.11 L455.00,142.75 L456.00,142.37 L457.00,141.98 L458.00,141.58 L459.00,141.16 L460.00,140.73 L461.00,140.28 L462.00,139.81 L463.00,139.33 L464.00,138.83 L465.01,138.31 L466.01,137.77 L467.01,137.20 L468.01,136.61 L469.01,135.99 L470.01,135.34 L471.01,134.67 L472.01,133.97 L473.01,133.24 L474.01,132.47 L475.01,131.68 L476.01,130.85 L477.01,129.98 L478.01,129.08 L479.01,128.14 L480.01,127.16 L481.01,126.15 L482.01,125.09 L482.84,124.22" stroke="#0000ff" stroke-dasharray="7.0 4.1"/>
<path d="M122.21,245.06 L122.81,244.02 L123.81,242.29 L124.81,240.61 L125.81,238.98 L126.81,237.40 L127.81,235.86 L128.81,234.36 L129.81,232.89 L130.81,231.47 L131.82,230.08 L132.82,228.72 L133.82,227.40 L134.82,226.11 L135.82,224.84 L136.82,223.60 L137.82,222.39 L138.82,221.21 L139.82,220.05 L140.82,218.92 L141.82,217.80 L142.82,216.71 L143.82,215.64 L144.82,214.59 L145.82,213.56 L146.82,212.55 L147.82,211.56 L148.82,210.58 L149.83,209.62 L150.83,208.68 L151.83,207.75 L152.83,206.84 L153.83,205.94 L154.83,205.06 L155.83,204.19 L156.83,203.34 L157.83,202.50 L158.83,201.67 L159.83,200.85 L160.83,200.04 L161.83,199.25 L162.83,198.47 L163.83,197.70 L164.83,196.94 L165.83,196.19 L166.84,195.45 L167.84,194.72 L168.84,194.00 L169.84,193.29 L170.84,192.59 L171.84,191.89 L172.84,191.21 L173.84,190.53 L174.84,189.87 L175.84,189.21 L176.84,188.56 L177.84,187.91 L178.84,187.28 L179.84,186.65 L180.84,186.03 L181.84,185.41 L182.84,184.80 L183.84,184.20 L184.85,183.61 L185.85,183.02 L186.85,182.44 L187.85,181.87 L188.85,181.30 L189.85,180.73 L190.85,180.18 L191.85,179.62 L192.85,179.08 L193.85,178.54 L194.85,178.00 L195.85,177.47 L196.85,176.95 L197.85,176.43 L198.85,175.91 L199.85,175.40 L200.85,174.90 L201.86,174.39 L202.86,173.90 L203.86,173.41 L204.86,172.92 L205.86,172.44 L206.86,171.96 L207.86,171.49 L208.86,171.02 L209.86,170.55 L210.86,170.09 L211.86,169.63 L212.86,169.18 L213.86,168.73 L214.86,168.28 L215.86,167.84 L216.86,167.40 L217.86,166.96 L218.86,166.53 L219.87,166.10 L220.87,165.68 L221.87,165.25 L222.87,164.84 L223.87,164.42 L224.87,164.01 L225.87,163.60 L226.87,163.19 L227.87,162.79 L228.87,162.39 L229.87,161.99 L230.87,161.60 L231.87,161.21 L232.87,160.82 L233.87,160.44 L234.87,160.05 L235.87,159.67 L236.88,159.30 L237.88,158.92 L238.88,158.55 L239.88,158.18 L240.88,157.81 L241.88,157.45 L242.88,157.09 L243.88,156.73 L244.88,156.37 L245.88,156.02 L246.88,155.67 L247.88,155.32 L248.88,154.97 L249.88,154.62 L250.88,154.28 L251.88,153.94 L252.88,153.60 L253.88,153.26 L254.89,152.93 L255.89,152.60 L256.89,152.27 L257.89,151.94 L258.89,151.61 L259.89,151.29 L260.89,150.97 L261.89,150.65 L262.89,150.33 L263.89,150.01 L264.89,149.70 L265.89,149.38 L266.89,149.07 L267.89,148.76 L268.89,148.46 L269.89,148.15 L270.89,147.85 L271.90,147.55 L272.90,147.25 L273.90,146.95 L274.90,146.65 L275.90,146.36 L276.90,146.06 L277.90,145.77 L278.90,145.48 L279.90,145.19 L280.90,144.90 L281.90,144.62 L282.90,144.33 L283.90,144.05 L284.90,143.77 L285.90,143.49 L286.90,143.21 L287.90,142.94 L288.90,142.66 L289.91,142.39 L290.91,142.11 L291.91,141.84 L292.91,141.57 L293.91,141.31 L294.91,141.04 L295.91,140.77 L296.91,140.51 L297.91,140.25 L298.91,139.99 L299.91,139.72 L300.91,139.47 L301.91,139.21 L302.91,138.95 L303.91,138.70 L304.91,138.44 L305.91,138.19 L306.92,137.94 L307.92,137.69 L308.92,137.44 L309.92,137.19 L310.92,136.94 L311.92,136.70 L312.92,136.45 L313.92,136.21 L314.92,135.97 L315.92,135.73 L316.92,135.49 L317.92,135.25 L318.92,135.01 L319.92,134.78 L320.92,134.54 L321.92,134.31 L322.92,134.08 L323.92,133.84 L324.93,133.62 L325.93,133.39 L326.93,133.16 L327.93,132.94 L328.93,132.71 L329.93,132.49 L330.93,132.27 L331.93,132.06 L332.93,131.84 L333.93,131.63 L334.93,131.41 L335.93,131.20 L336.93,130.99 L337.93,130.79 L338.93,130.58 L339.93,130.38 L340.93,130.18 L341.94,129.98 L342.94,129.78 L343.94,129.59 L344.94,129.39 L345.94,129.20 L346.94,129.01 L347.94,128.83 L348.94,128.64 L349.94,128.46 L350.94,128.28 L351.94,128.10 L352.94,127.92 L353.94,127.75 L354.94,127.58 L355.94,127.41 L356.94,127.24 L357.94,127.07 L358.94,126.91 L359.95,126.75 L360.95,126.59 L361.95,126.44 L362.95,126.28 L363.95,126.13 L364.95,125.98 L365.95,125.83 L366.95,125.69 L367.95,125.54 L368.95,125.40 L369.95,125.25 L370.95,125.10 L371.95,124.94 L372.95,124.78 L373.95,124.60 L374.95,124.42 L375.95,124.23 L376.96,124.03 L377.96,123.82 L378.96,123.59 L379.96,123.34 L380.96,123.09 L381.96,122.81 L382.96,122.52 L383.96,122.20 L384.96,121.87 L385.96,121.51 L386.96,121.14 L387.96,120.74 L388.96,120.32 L389.96,119.88 L390.96,119.42 L391.96,118.94 L392.96,118.44 L393.96,117.92 L394.97,117.38 L395.97,116.82 L396.97,116.24 L397.97,115.64 L398.97,115.02 L399.97,114.38 L400.97,113.73 L401.97,113.06 L402.97,112.38 L403.97,111.68 L404.97,110.98 L405.97,110.27 L406.97,109.56 L407.97,108.84 L408.97,108.12 L409.97,107.40 L410.97,106.69 L411.98,105.98 L412.98,105.28 L413.98,104.58 L414.98,103.90 L415.98,103.23 L416.98,102.57 L417.98,101.93 L418.98,101.30 L419.98,100.69 L420.98,100.10 L421.98,99.53 L422.98,98.98 L423.98,98.45 L424.98,97.95 L425.98,97.48 L426.98,97.03 L427.98,96.61 L428.98,96.22 L429.99,95.86 L430.99,95.53 L431.99,95.24 L432.99,94.97 L433.99,94.74 L434.99,94.54 L435.99,94.36 L436.99,94.22 L437.99,94.10 L438.99,94.01 L439.99,93.94 L440.99,93.90 L441.99,93.89 L442.99,93.90 L443.99,93.93 L444.99,93.98 L445.99,94.05 L447.00,94.14 L448.00,94.25 L449.00,94.38 L450.00,94.52 L451.00,94.67 L452.00,94.83 L453.00,95.01 L454.00,95.20 L455.00,95.40 L456.00,95.60 L457.00,95.81 L458.00,96.03 L459.00,96.26 L460.00,96.49 L461.00,96.72 L462.00,96.95 L463.00,97.19 L464.00,97.43 L465.01,97.66 L466.01,97.90 L467.01,98.13 L468.01,98.36 L469.01,98.59 L470.01,98.81 L471.01,99.02 L472.01,99.23 L473.01,99.43 L474.01,99.63 L475.01,99.81 L476.01,99.99 L477.01,100.16 L478.01,100.31 L479.01,100.45 L480.01,100.59 L481.01,100.70 L482.01,100.81 L483.21,100.93" stroke="#ff0000" stroke-dasharray="7.0 4.1"/>
</g>
<path d="M88.60,345.75 v-5.6 M88.60,18.0 v5.6 M105.70,345.75 v-3.5 M105.70,18.0 v3.5 M122.81,345.75 v-3.5 M122.81,18.0 v3.5 M139.91,345.75 v-3.5 M139.91,18.0 v3.5 M157.02,345.75 v-5.6 M157.02,18.0 v5.6 M174.12,345.75 v-3.5 M174.12,18.0 v3.5 M191.23,345.75 v-3.5 M191.23,18.0 v3.5 M208.33,345.75 v-3.5 M208.33,18.0 v3.5 M225.44,345.75 v-5.6 M225.44,18.0 v5.6 M242.54,345.75 v-3.5 M242.54,18.0 v3.5 M259.65,345.75 v-3.5 M259.65,18.0 v3.5 M276.75,345.75 v-3.5 M276.75,18.0 v3.5 M293.86,345.75 v-5.6 M293.86,18.0 v5.6 M310.96,345.75 v-3.5 M310.96,18.0 v3.5 M328.07,345.75 v-3.5 M328.07,18.0 v3.5 M345.17,345.75 v-3.5 M345.17,18.0 v3.5 M362.28,345.75 v-5.6 M362.28,18.0 v5.6 M379.38,345.75 v-3.5 M379.38,18.0 v3.5 M396.49,345.75 v-3.5 M396.49,18.0 v3.5 M413.60,345.75 v-3.5 M413.60,18.0 v3.5 M430.70,345.75 v-5.6 M430.70,18.0 v5.6 M447.80,345.75 v-3.5 M447.80,18.0 v3.5 M464.91,345.75 v-3.5 M464.91,18.0 v3.5 M482.01,345.75 v-3.5 M482.01,18.0 v3.5" stroke="#000" stroke-width="1.45" fill="none"/>
<path d="M80.65,340.21 h2.3 M490.0,340.21 h-2.3 M80.65,335.28 h2.3 M490.0,335.28 h-2.3 M80.65,330.94 h2.3 M490.0,330.94 h-2.3 M80.65,327.05 h4.0 M490.0,327.05 h-4.0 M80.65,301.48 h2.3 M490.0,301.48 h-2.3 M80.65,286.52 h2.3 M490.0,286.52 h-2.3 M80.65,275.91 h2.3 M490.0,275.91 h-2.3 M80.65,267.67 h2.3 M490.0,267.67 h-2.3 M80.65,260.95 h2.3 M490.0,260.95 h-2.3 M80.65,255.26 h2.3 M490.0,255.26 h-2.3 M80.65,250.33 h2.3 M490.0,250.33 h-2.3 M80.65,245.99 h2.3 M490.0,245.99 h-2.3 M80.65,242.10 h4.0 M490.0,242.10 h-4.0 M80.65,216.53 h2.3 M490.0,216.53 h-2.3 M80.65,201.57 h2.3 M490.0,201.57 h-2.3 M80.65,190.96 h2.3 M490.0,190.96 h-2.3 M80.65,182.72 h2.3 M490.0,182.72 h-2.3 M80.65,176.00 h2.3 M490.0,176.00 h-2.3 M80.65,170.31 h2.3 M490.0,170.31 h-2.3 M80.65,165.38 h2.3 M490.0,165.38 h-2.3 M80.65,161.04 h2.3 M490.0,161.04 h-2.3 M80.65,157.15 h4.0 M490.0,157.15 h-4.0 M80.65,131.58 h2.3 M490.0,131.58 h-2.3 M80.65,116.62 h2.3 M490.0,116.62 h-2.3 M80.65,106.01 h2.3 M490.0,106.01 h-2.3 M80.65,97.77 h2.3 M490.0,97.77 h-2.3 M80.65,91.05 h2.3 M490.0,91.05 h-2.3 M80.65,85.36 h2.3 M490.0,85.36 h-2.3 M80.65,80.43 h2.3 M490.0,80.43 h-2.3 M80.65,76.09 h2.3 M490.0,76.09 h-2.3 M80.65,72.20 h4.0 M490.0,72.20 h-4.0 M80.65,46.63 h2.3 M490.0,46.63 h-2.3 M80.65,31.67 h2.3 M490.0,31.67 h-2.3 M80.65,21.06 h2.3 M490.0,21.06 h-2.3" stroke="#000" stroke-width="1.3" fill="none"/>
<rect x="80.65" y="18.0" width="409.35" height="327.75" fill="none" stroke="#000" stroke-width="1.5"/>
<text x="88.60" y="367.8" font-size="18.7" text-anchor="middle">0</text>
<text x="157.02" y="367.8" font-size="18.7" text-anchor="middle">20</text>
<text x="225.44" y="367.8" font-size="18.7" text-anchor="middle">40</text>
<text x="293.86" y="367.8" font-size="18.7" text-anchor="middle">60</text>
<text x="362.28" y="367.8" font-size="18.7" text-anchor="middle">80</text>
<path d="M763 0H583V1147Q518 1085 412.5 1023T223 930V1104Q373 1174.5 485 1275T644 1466H763Z" transform="translate(415.10,367.80) scale(0.00913,-0.00877)" fill="#000"/>
<text x="425.50" y="367.8" font-size="18.7" letter-spacing="-0.35">00</text>
<path d="M763 0H583V1147Q518 1085 412.5 1023T223 930V1104Q373 1174.5 485 1275T644 1466H763Z" transform="translate(40.55,79.50) scale(0.00913,-0.00877)" fill="#000"/>
<text x="50.15" y="79.50" font-size="18.7">0</text>
<text x="60.85" y="71.40" font-size="13"><tspan dy="2.0">−</tspan><tspan dy="-2.0">2</tspan></text>
<path d="M763 0H583V1147Q518 1085 412.5 1023T223 930V1104Q373 1174.5 485 1275T644 1466H763Z" transform="translate(40.55,164.45) scale(0.00913,-0.00877)" fill="#000"/>
<text x="50.15" y="164.45" font-size="18.7">0</text>
<text x="60.85" y="156.35" font-size="13"><tspan dy="2.0">−</tspan><tspan dy="-2.0">3</tspan></text>
<path d="M763 0H583V1147Q518 1085 412.5 1023T223 930V1104Q373 1174.5 485 1275T644 1466H763Z" transform="translate(40.55,249.40) scale(0.00913,-0.00877)" fill="#000"/>
<text x="50.15" y="249.40" font-size="18.7">0</text>
<text x="60.85" y="241.30" font-size="13"><tspan dy="2.0">−</tspan><tspan dy="-2.0">4</tspan></text>
<path d="M763 0H583V1147Q518 1085 412.5 1023T223 930V1104Q373 1174.5 485 1275T644 1466H763Z" transform="translate(40.55,334.35) scale(0.00913,-0.00877)" fill="#000"/>
<text x="50.15" y="334.35" font-size="18.7">0</text>
<text x="60.85" y="326.25" font-size="13"><tspan dy="2.0">−</tspan><tspan dy="-2.0">5</tspan></text>
<text y="398.15" font-size="17.6"><tspan x="241.42" font-style="italic">s</tspan><tspan x="255.37">[</tspan><tspan x="260.22" font-style="italic">h</tspan><tspan x="270.42" dy="-6.2" font-size="13">−</tspan><tspan x="290.57" dy="6.2" letter-spacing="0.25">Mpc]</tspan></text>
<path d="M763 0H583V1147Q518 1085 412.5 1023T223 930V1104Q373 1174.5 485 1275T644 1466H763Z" transform="translate(277.72,390.55) scale(0.00635,-0.00610)" fill="#000"/>
<g transform="translate(25.65,0) rotate(-90)"><text x="-241.20" y="0" font-size="18.5" font-style="italic">ξ</text><g transform="translate(-232.80,5.00)" fill="none" stroke="#000" stroke-linecap="round" stroke-linejoin="round"><path d="M0.2,-3.3 C1.9,-4.1 4.9,-6.7 6.1,-9.1 C7.0,-10.9 7.0,-11.9 6.1,-11.9" stroke-width="0.75"/><path d="M6.1,-11.9 C4.8,-11.9 3.2,-9.4 2.4,-6.5 C1.7,-4 1.3,-1.9 1.5,-1.0" stroke-width="1.45"/><path d="M1.5,-1.0 C1.7,0 2.4,0.1 3.0,-0.3 C3.5,-0.7 3.8,-1.1 4.0,-1.5" stroke-width="0.95"/></g><text x="-224.90" y="0" font-size="18" >(s,x)</text><text x="-184.90" y="0" font-size="18" >/</text><text x="-174.70" y="0" font-size="18.5" font-style="italic">ξ</text><text x="-165.80" y="-8.0" font-size="12" >pp</text><g transform="translate(-150.60,5.00)" fill="none" stroke="#000" stroke-linecap="round" stroke-linejoin="round"><path d="M0.2,-3.3 C1.9,-4.1 4.9,-6.7 6.1,-9.1 C7.0,-10.9 7.0,-11.9 6.1,-11.9" stroke-width="0.75"/><path d="M6.1,-11.9 C4.8,-11.9 3.2,-9.4 2.4,-6.5 C1.7,-4 1.3,-1.9 1.5,-1.0" stroke-width="1.45"/><path d="M1.5,-1.0 C1.7,0 2.4,0.1 3.0,-0.3 C3.5,-0.7 3.8,-1.1 4.0,-1.5" stroke-width="0.95"/></g><text x="-142.60" y="0" font-size="18" >(s)</text></g>
<line x1="572.9" x2="982.6" y1="72.20" y2="72.20" stroke="#d3d3d3" stroke-width="1"/>
<line x1="572.9" x2="982.6" y1="157.15" y2="157.15" stroke="#d3d3d3" stroke-width="1"/>
<clipPath id="cR"><rect x="572.9" y="18.0" width="409.70000000000005" height="327.75"/></clipPath>
<g clip-path="url(#cR)" fill="none" stroke-width="2.45" stroke-linecap="butt" stroke-linejoin="round">
<path d="M630.24,346.10 L630.80,345.04 L631.76,343.20 L632.71,341.41 L633.67,339.65 L634.63,337.93 L635.58,336.25 L636.54,334.59 L637.50,332.97 L638.45,331.38 L639.41,329.81 L640.37,328.28 L641.33,326.77 L642.28,325.28 L643.24,323.82 L644.20,322.38 L645.15,320.96 L646.11,319.56 L647.07,318.19 L648.02,316.83 L648.98,315.49 L649.94,314.17 L650.89,312.87 L651.85,311.58 L652.81,310.31 L653.76,309.06 L654.72,307.82 L655.68,306.59 L656.64,305.38 L657.59,304.18 L658.55,303.00 L659.51,301.83 L660.46,300.67 L661.42,299.52 L662.38,298.38 L663.33,297.25 L664.29,296.14 L665.25,295.03 L666.20,293.94 L667.16,292.86 L668.12,291.78 L669.07,290.71 L670.03,289.66 L670.99,288.61 L671.95,287.57 L672.90,286.54 L673.86,285.51 L674.82,284.50 L675.77,283.49 L676.73,282.49 L677.69,281.50 L678.64,280.51 L679.60,279.53 L680.56,278.56 L681.51,277.59 L682.47,276.63 L683.43,275.68 L684.38,274.73 L685.34,273.79 L686.30,272.85 L687.26,271.92 L688.21,271.00 L689.17,270.08 L690.13,269.17 L691.08,268.26 L692.04,267.36 L693.00,266.46 L693.95,265.56 L694.91,264.67 L695.87,263.79 L696.82,262.91 L697.78,262.04 L698.74,261.17 L699.69,260.30 L700.65,259.44 L701.61,258.58 L702.56,257.73 L703.52,256.88 L704.48,256.03 L705.44,255.19 L706.39,254.35 L707.35,253.52 L708.31,252.69 L709.26,251.86 L710.22,251.04 L711.18,250.22 L712.13,249.40 L713.09,248.59 L714.05,247.78 L715.00,246.97 L715.96,246.17 L716.92,245.36 L717.87,244.57 L718.83,243.77 L719.79,242.98 L720.75,242.19 L721.70,241.41 L722.66,240.62 L723.62,239.84 L724.57,239.07 L725.53,238.29 L726.49,237.52 L727.44,236.75 L728.40,235.99 L729.36,235.22 L730.31,234.46 L731.27,233.70 L732.23,232.95 L733.18,232.19 L734.14,231.44 L735.10,230.69 L736.06,229.94 L737.01,229.20 L737.97,228.46 L738.93,227.72 L739.88,226.98 L740.84,226.24 L741.80,225.51 L742.75,224.78 L743.71,224.05 L744.67,223.32 L745.62,222.60 L746.58,221.88 L747.54,221.16 L748.49,220.44 L749.45,219.72 L750.41,219.00 L751.37,218.29 L752.32,217.58 L753.28,216.87 L754.24,216.16 L755.19,215.46 L756.15,214.75 L757.11,214.05 L758.06,213.35 L759.02,212.65 L759.98,211.96 L760.93,211.26 L761.89,210.57 L762.85,209.88 L763.80,209.19 L764.76,208.50 L765.72,207.81 L766.68,207.13 L767.63,206.45 L768.59,205.77 L769.55,205.09 L770.50,204.41 L771.46,203.73 L772.42,203.06 L773.37,202.39 L774.33,201.72 L775.29,201.05 L776.24,200.38 L777.20,199.72 L778.16,199.05 L779.11,198.39 L780.07,197.73 L781.03,197.07 L781.98,196.42 L782.94,195.76 L783.90,195.11 L784.86,194.45 L785.81,193.80 L786.77,193.15 L787.73,192.51 L788.68,191.86 L789.64,191.22 L790.60,190.57 L791.55,189.93 L792.51,189.29 L793.47,188.66 L794.42,188.02 L795.38,187.38 L796.34,186.75 L797.29,186.12 L798.25,185.49 L799.21,184.86 L800.17,184.23 L801.12,183.61 L802.08,182.98 L803.04,182.36 L803.99,181.74 L804.95,181.12 L805.91,180.50 L806.86,179.88 L807.82,179.27 L808.78,178.65 L809.73,178.03 L810.69,177.41 L811.65,176.79 L812.60,176.16 L813.56,175.53 L814.52,174.90 L815.48,174.26 L816.43,173.62 L817.39,172.97 L818.35,172.31 L819.30,171.64 L820.26,170.97 L821.22,170.29 L822.17,169.61 L823.13,168.91 L824.09,168.20 L825.04,167.48 L826.00,166.76 L826.96,166.02 L827.91,165.27 L828.87,164.51 L829.83,163.73 L830.79,162.94 L831.74,162.15 L832.70,161.33 L833.66,160.51 L834.61,159.68 L835.57,158.84 L836.53,157.99 L837.48,157.14 L838.44,156.28 L839.40,155.42 L840.35,154.55 L841.31,153.68 L842.27,152.81 L843.22,151.94 L844.18,151.07 L845.14,150.20 L846.09,149.33 L847.05,148.46 L848.01,147.60 L848.97,146.74 L849.92,145.89 L850.88,145.04 L851.84,144.20 L852.79,143.36 L853.75,142.54 L854.71,141.72 L855.66,140.91 L856.62,140.11 L857.58,139.33 L858.53,138.55 L859.49,137.78 L860.45,137.04 L861.40,136.31 L862.36,135.62 L863.32,134.96 L864.28,134.35 L865.23,133.80 L866.19,133.31 L867.15,132.89 L868.10,132.54 L869.06,132.27 L870.02,132.10 L870.97,132.02 L871.93,132.03 L872.89,132.13 L873.84,132.32 L874.80,132.60 L875.76,132.96 L876.71,133.39 L877.67,133.91 L878.63,134.50 L879.59,135.17 L880.54,135.90 L881.50,136.71 L882.46,137.58 L883.41,138.51 L884.37,139.51 L885.33,140.57 L886.28,141.68 L887.24,142.85 L888.20,144.07 L889.15,145.34 L890.11,146.66 L891.07,148.02 L892.02,149.43 L892.98,150.88 L893.94,152.37 L894.90,153.89 L895.85,155.45 L896.81,157.02 L897.77,158.59 L898.72,160.14 L899.68,161.68 L900.64,163.17 L901.59,164.62 L902.55,166.00 L903.51,167.31 L904.46,168.54 L905.42,169.66 L906.38,170.69 L907.33,171.62 L908.29,172.47 L909.25,173.25 L910.20,173.97 L911.16,174.64 L912.12,175.27 L913.08,175.85 L914.03,176.38 L914.99,176.87 L915.95,177.31 L916.90,177.70 L917.86,178.04 L918.82,178.34 L919.77,178.57 L920.73,178.76 L921.69,178.90 L922.64,178.98 L923.60,179.00 L924.56,178.97 L925.51,178.89 L926.47,178.75 L927.43,178.56 L928.39,178.31 L929.34,178.02 L930.30,177.66 L931.26,177.26 L932.21,176.80 L933.17,176.28 L934.13,175.72 L935.08,175.10 L936.04,174.43 L937.00,173.70 L937.95,172.93 L938.91,172.10 L939.87,171.21 L940.82,170.28 L941.78,169.30 L942.74,168.26 L943.70,167.17 L944.65,166.03 L945.61,164.84 L946.57,163.60 L947.52,162.30 L948.48,160.96 L949.44,159.56 L950.39,158.12 L951.35,156.64 L952.31,155.14 L953.26,153.62 L954.22,152.10 L955.18,150.58 L956.13,149.07 L957.09,147.60 L958.05,146.15 L959.01,144.75 L959.96,143.40 L960.92,142.11 L961.88,140.81 L962.83,139.46 L963.79,137.99 L964.75,136.33 L965.70,134.45 L966.66,132.36 L967.62,130.11 L968.57,127.76 L969.53,125.35 L970.49,122.93 L971.44,120.55 L972.40,118.26 L973.36,116.10 L974.31,114.12 L974.84,113.04" stroke="#0000ff"/>
<path d="M614.60,349.23 L615.11,348.15 L616.11,346.02 L617.11,343.94 L618.11,341.92 L619.11,339.95 L620.11,338.02 L621.11,336.14 L622.11,334.31 L623.11,332.51 L624.12,330.76 L625.12,329.05 L626.12,327.37 L627.12,325.73 L628.12,324.13 L629.12,322.56 L630.12,321.02 L631.12,319.52 L632.12,318.04 L633.12,316.59 L634.12,315.17 L635.12,313.78 L636.12,312.42 L637.12,311.08 L638.12,309.77 L639.12,308.48 L640.12,307.21 L641.12,305.97 L642.13,304.75 L643.13,303.55 L644.13,302.37 L645.13,301.21 L646.13,300.07 L647.13,298.95 L648.13,297.85 L649.13,296.77 L650.13,295.70 L651.13,294.65 L652.13,293.62 L653.13,292.61 L654.13,291.61 L655.13,290.62 L656.13,289.65 L657.13,288.70 L658.13,287.76 L659.14,286.84 L660.14,285.92 L661.14,285.02 L662.14,284.14 L663.14,283.27 L664.14,282.41 L665.14,281.56 L666.14,280.72 L667.14,279.90 L668.14,279.08 L669.14,278.28 L670.14,277.49 L671.14,276.71 L672.14,275.94 L673.14,275.18 L674.14,274.43 L675.14,273.69 L676.14,272.96 L677.15,272.24 L678.15,271.53 L679.15,270.83 L680.15,270.13 L681.15,269.45 L682.15,268.77 L683.15,268.10 L684.15,267.44 L685.15,266.79 L686.15,266.15 L687.15,265.51 L688.15,264.88 L689.15,264.26 L690.15,263.65 L691.15,263.04 L692.15,262.43 L693.15,261.83 L694.16,261.23 L695.16,260.63 L696.16,260.02 L697.16,259.42 L698.16,258.82 L699.16,258.21 L700.16,257.60 L701.16,256.99 L702.16,256.37 L703.16,255.74 L704.16,255.11 L705.16,254.48 L706.16,253.83 L707.16,253.19 L708.16,252.54 L709.16,251.88 L710.16,251.23 L711.16,250.58 L712.17,249.93 L713.17,249.28 L714.17,248.64 L715.17,248.00 L716.17,247.37 L717.17,246.74 L718.17,246.13 L719.17,245.51 L720.17,244.91 L721.17,244.32 L722.17,243.74 L723.17,243.16 L724.17,242.60 L725.17,242.05 L726.17,241.50 L727.17,240.96 L728.17,240.43 L729.18,239.91 L730.18,239.39 L731.18,238.88 L732.18,238.38 L733.18,237.89 L734.18,237.40 L735.18,236.92 L736.18,236.45 L737.18,235.98 L738.18,235.52 L739.18,235.06 L740.18,234.61 L741.18,234.16 L742.18,233.72 L743.18,233.29 L744.18,232.86 L745.18,232.43 L746.18,232.01 L747.19,231.60 L748.19,231.19 L749.19,230.78 L750.19,230.37 L751.19,229.98 L752.19,229.58 L753.19,229.19 L754.19,228.80 L755.19,228.42 L756.19,228.04 L757.19,227.66 L758.19,227.29 L759.19,226.92 L760.19,226.55 L761.19,226.18 L762.19,225.82 L763.19,225.46 L764.20,225.11 L765.20,224.75 L766.20,224.40 L767.20,224.05 L768.20,223.71 L769.20,223.36 L770.20,223.02 L771.20,222.68 L772.20,222.35 L773.20,222.01 L774.20,221.68 L775.20,221.35 L776.20,221.02 L777.20,220.69 L778.20,220.37 L779.20,220.05 L780.20,219.73 L781.20,219.41 L782.21,219.09 L783.21,218.77 L784.21,218.46 L785.21,218.15 L786.21,217.83 L787.21,217.52 L788.21,217.22 L789.21,216.91 L790.21,216.60 L791.21,216.30 L792.21,215.99 L793.21,215.69 L794.21,215.39 L795.21,215.09 L796.21,214.79 L797.21,214.50 L798.21,214.20 L799.22,213.90 L800.22,213.61 L801.22,213.32 L802.22,213.02 L803.22,212.73 L804.22,212.44 L805.22,212.15 L806.22,211.86 L807.22,211.58 L808.22,211.29 L809.22,211.00 L810.22,210.72 L811.22,210.43 L812.22,210.15 L813.22,209.86 L814.22,209.58 L815.22,209.30 L816.22,209.01 L817.23,208.73 L818.23,208.45 L819.23,208.17 L820.23,207.89 L821.23,207.61 L822.23,207.33 L823.23,207.06 L824.23,206.78 L825.23,206.50 L826.23,206.22 L827.23,205.95 L828.23,205.67 L829.23,205.39 L830.23,205.12 L831.23,204.84 L832.23,204.57 L833.23,204.29 L834.24,204.02 L835.24,203.75 L836.24,203.47 L837.24,203.20 L838.24,202.93 L839.24,202.65 L840.24,202.38 L841.24,202.11 L842.24,201.84 L843.24,201.56 L844.24,201.29 L845.24,201.02 L846.24,200.75 L847.24,200.48 L848.24,200.20 L849.24,199.93 L850.24,199.66 L851.24,199.39 L852.25,199.12 L853.25,198.85 L854.25,198.58 L855.25,198.31 L856.25,198.04 L857.25,197.77 L858.25,197.50 L859.25,197.22 L860.25,196.95 L861.25,196.68 L862.25,196.41 L863.25,196.14 L864.25,195.87 L865.25,195.60 L866.25,195.33 L867.25,195.06 L868.25,194.79 L869.26,194.52 L870.26,194.25 L871.26,193.98 L872.26,193.71 L873.26,193.44 L874.26,193.17 L875.26,192.89 L876.26,192.62 L877.26,192.35 L878.26,192.08 L879.26,191.82 L880.26,191.55 L881.26,191.28 L882.26,191.01 L883.26,190.74 L884.26,190.47 L885.26,190.21 L886.26,189.94 L887.27,189.67 L888.27,189.41 L889.27,189.14 L890.27,188.88 L891.27,188.62 L892.27,188.36 L893.27,188.09 L894.27,187.83 L895.27,187.57 L896.27,187.31 L897.27,187.06 L898.27,186.80 L899.27,186.54 L900.27,186.29 L901.27,186.03 L902.27,185.78 L903.27,185.53 L904.28,185.27 L905.28,185.02 L906.28,184.78 L907.28,184.53 L908.28,184.28 L909.28,184.03 L910.28,183.79 L911.28,183.55 L912.28,183.30 L913.28,183.06 L914.28,182.82 L915.28,182.59 L916.28,182.35 L917.28,182.11 L918.28,181.88 L919.28,181.65 L920.28,181.41 L921.28,181.18 L922.29,180.96 L923.29,180.73 L924.29,180.50 L925.29,180.28 L926.29,180.05 L927.29,179.83 L928.29,179.61 L929.29,179.39 L930.29,179.18 L931.29,178.96 L932.29,178.75 L933.29,178.54 L934.29,178.32 L935.29,178.11 L936.29,177.91 L937.29,177.70 L938.29,177.50 L939.30,177.29 L940.30,177.09 L941.30,176.89 L942.30,176.70 L943.30,176.50 L944.30,176.31 L945.30,176.12 L946.30,175.93 L947.30,175.74 L948.30,175.56 L949.30,175.37 L950.30,175.19 L951.30,175.02 L952.30,174.84 L953.30,174.67 L954.30,174.50 L955.30,174.33 L956.30,174.17 L957.31,174.00 L958.31,173.84 L959.31,173.69 L960.31,173.53 L961.31,173.38 L962.31,173.23 L963.31,173.08 L964.31,172.94 L965.31,172.80 L966.31,172.66 L967.31,172.53 L968.31,172.40 L969.31,172.27 L970.31,172.14 L971.31,172.02 L972.31,171.90 L973.31,171.79 L974.31,171.67 L975.51,171.54" stroke="#ff0000"/>
<path d="M614.57,281.03 L615.11,279.96 L616.11,277.99 L617.11,276.08 L618.11,274.23 L619.11,272.44 L620.11,270.70 L621.11,269.01 L622.11,267.37 L623.11,265.77 L624.12,264.21 L625.12,262.69 L626.12,261.22 L627.12,259.77 L628.12,258.37 L629.12,256.99 L630.12,255.65 L631.12,254.33 L632.12,253.05 L633.12,251.79 L634.12,250.56 L635.12,249.36 L636.12,248.18 L637.12,247.02 L638.12,245.89 L639.12,244.78 L640.12,243.69 L641.12,242.61 L642.13,241.56 L643.13,240.53 L644.13,239.51 L645.13,238.52 L646.13,237.54 L647.13,236.57 L648.13,235.62 L649.13,234.69 L650.13,233.77 L651.13,232.87 L652.13,231.98 L653.13,231.10 L654.13,230.24 L655.13,229.39 L656.13,228.55 L657.13,227.73 L658.13,226.91 L659.14,226.11 L660.14,225.32 L661.14,224.53 L662.14,223.76 L663.14,223.00 L664.14,222.25 L665.14,221.51 L666.14,220.78 L667.14,220.06 L668.14,219.34 L669.14,218.64 L670.14,217.94 L671.14,217.25 L672.14,216.57 L673.14,215.90 L674.14,215.24 L675.14,214.58 L676.14,213.93 L677.15,213.29 L678.15,212.65 L679.15,212.02 L680.15,211.40 L681.15,210.79 L682.15,210.18 L683.15,209.58 L684.15,208.98 L685.15,208.39 L686.15,207.81 L687.15,207.23 L688.15,206.66 L689.15,206.09 L690.15,205.53 L691.15,204.97 L692.15,204.42 L693.15,203.88 L694.16,203.34 L695.16,202.80 L696.16,202.27 L697.16,201.75 L698.16,201.23 L699.16,200.71 L700.16,200.20 L701.16,199.69 L702.16,199.19 L703.16,198.69 L704.16,198.19 L705.16,197.70 L706.16,197.22 L707.16,196.74 L708.16,196.26 L709.16,195.78 L710.16,195.31 L711.16,194.85 L712.17,194.38 L713.17,193.92 L714.17,193.47 L715.17,193.02 L716.17,192.57 L717.17,192.12 L718.17,191.68 L719.17,191.24 L720.17,190.81 L721.17,190.37 L722.17,189.95 L723.17,189.52 L724.17,189.10 L725.17,188.68 L726.17,188.26 L727.17,187.85 L728.17,187.44 L729.18,187.03 L730.18,186.62 L731.18,186.22 L732.18,185.82 L733.18,185.42 L734.18,185.03 L735.18,184.64 L736.18,184.25 L737.18,183.86 L738.18,183.48 L739.18,183.09 L740.18,182.72 L741.18,182.34 L742.18,181.96 L743.18,181.59 L744.18,181.22 L745.18,180.85 L746.18,180.49 L747.19,180.13 L748.19,179.77 L749.19,179.41 L750.19,179.05 L751.19,178.70 L752.19,178.34 L753.19,177.99 L754.19,177.65 L755.19,177.30 L756.19,176.96 L757.19,176.61 L758.19,176.27 L759.19,175.94 L760.19,175.60 L761.19,175.26 L762.19,174.93 L763.19,174.60 L764.20,174.27 L765.20,173.95 L766.20,173.62 L767.20,173.30 L768.20,172.97 L769.20,172.65 L770.20,172.34 L771.20,172.02 L772.20,171.70 L773.20,171.39 L774.20,171.08 L775.20,170.77 L776.20,170.46 L777.20,170.15 L778.20,169.85 L779.20,169.54 L780.20,169.24 L781.20,168.94 L782.21,168.64 L783.21,168.34 L784.21,168.05 L785.21,167.75 L786.21,167.46 L787.21,167.17 L788.21,166.88 L789.21,166.59 L790.21,166.30 L791.21,166.01 L792.21,165.73 L793.21,165.44 L794.21,165.16 L795.21,164.88 L796.21,164.60 L797.21,164.32 L798.21,164.04 L799.22,163.77 L800.22,163.49 L801.22,163.22 L802.22,162.95 L803.22,162.67 L804.22,162.40 L805.22,162.14 L806.22,161.87 L807.22,161.60 L808.22,161.34 L809.22,161.07 L810.22,160.81 L811.22,160.55 L812.22,160.29 L813.22,160.03 L814.22,159.77 L815.22,159.51 L816.22,159.25 L817.23,159.00 L818.23,158.74 L819.23,158.49 L820.23,158.24 L821.23,157.99 L822.23,157.74 L823.23,157.49 L824.23,157.24 L825.23,156.99 L826.23,156.75 L827.23,156.50 L828.23,156.26 L829.23,156.01 L830.23,155.77 L831.23,155.53 L832.23,155.29 L833.23,155.05 L834.24,154.81 L835.24,154.58 L836.24,154.34 L837.24,154.11 L838.24,153.88 L839.24,153.65 L840.24,153.43 L841.24,153.20 L842.24,152.98 L843.24,152.77 L844.24,152.55 L845.24,152.34 L846.24,152.13 L847.24,151.93 L848.24,151.73 L849.24,151.53 L850.24,151.34 L851.24,151.15 L852.25,150.96 L853.25,150.78 L854.25,150.61 L855.25,150.43 L856.25,150.27 L857.25,150.10 L858.25,149.94 L859.25,149.79 L860.25,149.64 L861.25,149.50 L862.25,149.36 L863.25,149.23 L864.25,149.10 L865.25,148.97 L866.25,148.86 L867.25,148.74 L868.25,148.64 L869.26,148.54 L870.26,148.44 L871.26,148.35 L872.26,148.27 L873.26,148.20 L874.26,148.15 L875.26,148.11 L876.26,148.08 L877.26,148.07 L878.26,148.08 L879.26,148.10 L880.26,148.14 L881.26,148.20 L882.26,148.27 L883.26,148.35 L884.26,148.46 L885.26,148.57 L886.26,148.71 L887.27,148.85 L888.27,149.02 L889.27,149.19 L890.27,149.38 L891.27,149.59 L892.27,149.81 L893.27,150.04 L894.27,150.27 L895.27,150.51 L896.27,150.76 L897.27,151.00 L898.27,151.25 L899.27,151.49 L900.27,151.72 L901.27,151.95 L902.27,152.17 L903.27,152.38 L904.28,152.57 L905.28,152.75 L906.28,152.92 L907.28,153.06 L908.28,153.19 L909.28,153.30 L910.28,153.39 L911.28,153.46 L912.28,153.50 L913.28,153.53 L914.28,153.54 L915.28,153.53 L916.28,153.50 L917.28,153.44 L918.28,153.36 L919.28,153.26 L920.28,153.14 L921.28,152.99 L922.29,152.82 L923.29,152.63 L924.29,152.41 L925.29,152.17 L926.29,151.90 L927.29,151.60 L928.29,151.28 L929.29,150.94 L930.29,150.57 L931.29,150.17 L932.29,149.75 L933.29,149.30 L934.29,148.83 L935.29,148.33 L936.29,147.82 L937.29,147.28 L938.29,146.73 L939.30,146.15 L940.30,145.56 L941.30,144.95 L942.30,144.33 L943.30,143.70 L944.30,143.05 L945.30,142.39 L946.30,141.73 L947.30,141.05 L948.30,140.37 L949.30,139.69 L950.30,139.00 L951.30,138.31 L952.30,137.62 L953.30,136.93 L954.30,136.25 L955.30,135.56 L956.30,134.89 L957.31,134.21 L958.31,133.55 L959.31,132.89 L960.31,132.24 L961.31,131.60 L962.31,130.98 L963.31,130.36 L964.31,129.76 L965.31,129.18 L966.31,128.61 L967.31,128.06 L968.31,127.53 L969.31,127.01 L970.31,126.52 L971.31,126.04 L972.31,125.59 L973.31,125.16 L974.31,124.76 L975.43,124.31" stroke="#00a800"/>
<path d="M614.46,298.24 L615.11,297.23 L616.11,295.67 L617.11,294.14 L618.11,292.65 L619.11,291.18 L620.11,289.74 L621.11,288.34 L622.11,286.95 L623.11,285.60 L624.12,284.26 L625.12,282.95 L626.12,281.66 L627.12,280.39 L628.12,279.14 L629.12,277.92 L630.12,276.70 L631.12,275.51 L632.12,274.34 L633.12,273.18 L634.12,272.03 L635.12,270.90 L636.12,269.79 L637.12,268.69 L638.12,267.60 L639.12,266.53 L640.12,265.47 L641.12,264.42 L642.13,263.39 L643.13,262.36 L644.13,261.35 L645.13,260.35 L646.13,259.36 L647.13,258.38 L648.13,257.41 L649.13,256.45 L650.13,255.50 L651.13,254.56 L652.13,253.63 L653.13,252.70 L654.13,251.79 L655.13,250.88 L656.13,249.99 L657.13,249.10 L658.13,248.21 L659.14,247.34 L660.14,246.47 L661.14,245.61 L662.14,244.76 L663.14,243.92 L664.14,243.08 L665.14,242.24 L666.14,241.42 L667.14,240.60 L668.14,239.79 L669.14,238.98 L670.14,238.18 L671.14,237.39 L672.14,236.60 L673.14,235.82 L674.14,235.04 L675.14,234.27 L676.14,233.50 L677.15,232.74 L678.15,231.98 L679.15,231.23 L680.15,230.49 L681.15,229.75 L682.15,229.01 L683.15,228.28 L684.15,227.55 L685.15,226.83 L686.15,226.11 L687.15,225.40 L688.15,224.69 L689.15,223.99 L690.15,223.29 L691.15,222.59 L692.15,221.90 L693.15,221.21 L694.16,220.53 L695.16,219.85 L696.16,219.17 L697.16,218.50 L698.16,217.83 L699.16,217.17 L700.16,216.51 L701.16,215.85 L702.16,215.19 L703.16,214.54 L704.16,213.90 L705.16,213.25 L706.16,212.61 L707.16,211.97 L708.16,211.34 L709.16,210.71 L710.16,210.08 L711.16,209.46 L712.17,208.84 L713.17,208.22 L714.17,207.60 L715.17,206.99 L716.17,206.38 L717.17,205.78 L718.17,205.17 L719.17,204.57 L720.17,203.97 L721.17,203.38 L722.17,202.79 L723.17,202.20 L724.17,201.61 L725.17,201.02 L726.17,200.44 L727.17,199.86 L728.17,199.29 L729.18,198.71 L730.18,198.14 L731.18,197.57 L732.18,197.00 L733.18,196.44 L734.18,195.88 L735.18,195.32 L736.18,194.76 L737.18,194.20 L738.18,193.65 L739.18,193.10 L740.18,192.55 L741.18,192.01 L742.18,191.46 L743.18,190.92 L744.18,190.38 L745.18,189.84 L746.18,189.30 L747.19,188.77 L748.19,188.23 L749.19,187.70 L750.19,187.17 L751.19,186.64 L752.19,186.10 L753.19,185.57 L754.19,185.04 L755.19,184.51 L756.19,183.98 L757.19,183.45 L758.19,182.92 L759.19,182.40 L760.19,181.87 L761.19,181.34 L762.19,180.81 L763.19,180.27 L764.20,179.74 L765.20,179.21 L766.20,178.68 L767.20,178.15 L768.20,177.61 L769.20,177.08 L770.20,176.54 L771.20,176.00 L772.20,175.47 L773.20,174.93 L774.20,174.39 L775.20,173.85 L776.20,173.30 L777.20,172.76 L778.20,172.21 L779.20,171.67 L780.20,171.12 L781.20,170.57 L782.21,170.02 L783.21,169.46 L784.21,168.91 L785.21,168.35 L786.21,167.79 L787.21,167.23 L788.21,166.67 L789.21,166.11 L790.21,165.54 L791.21,164.98 L792.21,164.41 L793.21,163.84 L794.21,163.26 L795.21,162.69 L796.21,162.11 L797.21,161.53 L798.21,160.95 L799.22,160.37 L800.22,159.78 L801.22,159.19 L802.22,158.60 L803.22,158.01 L804.22,157.42 L805.22,156.82 L806.22,156.22 L807.22,155.62 L808.22,155.02 L809.22,154.41 L810.22,153.81 L811.22,153.20 L812.22,152.58 L813.22,151.97 L814.22,151.35 L815.22,150.72 L816.22,150.10 L817.23,149.47 L818.23,148.84 L819.23,148.20 L820.23,147.56 L821.23,146.92 L822.23,146.28 L823.23,145.63 L824.23,144.97 L825.23,144.32 L826.23,143.66 L827.23,142.99 L828.23,142.32 L829.23,141.65 L830.23,140.98 L831.23,140.30 L832.23,139.61 L833.23,138.92 L834.24,138.23 L835.24,137.53 L836.24,136.83 L837.24,136.13 L838.24,135.42 L839.24,134.70 L840.24,133.98 L841.24,133.26 L842.24,132.53 L843.24,131.80 L844.24,131.06 L845.24,130.32 L846.24,129.57 L847.24,128.82 L848.24,128.07 L849.24,127.31 L850.24,126.54 L851.24,125.77 L852.25,125.00 L853.25,124.22 L854.25,123.44 L855.25,122.65 L856.25,121.86 L857.25,121.07 L858.25,120.29 L859.25,119.52 L860.25,118.78 L861.25,118.06 L862.25,117.37 L863.25,116.72 L864.25,116.12 L865.25,115.57 L866.25,115.07 L867.25,114.62 L868.25,114.25 L869.26,113.94 L870.26,113.71 L871.26,113.55 L872.26,113.48 L873.26,113.50 L874.26,113.61 L875.26,113.82 L876.26,114.13 L877.26,114.54 L878.26,115.06 L879.26,115.70 L880.26,116.45 L881.26,117.32 L882.26,118.30 L883.26,119.38 L884.26,120.55 L885.26,121.79 L886.26,123.10 L887.27,124.47 L888.27,125.88 L889.27,127.32 L890.27,128.78 L891.27,130.26 L892.27,131.74 L893.27,133.21 L894.27,134.66 L895.27,136.10 L896.27,137.50 L897.27,138.87 L898.27,140.20 L899.27,141.49 L900.27,142.73 L901.27,143.92 L902.27,145.06 L903.27,146.15 L904.28,147.19 L905.28,148.17 L906.28,149.11 L907.28,150.01 L908.28,150.85 L909.28,151.65 L910.28,152.40 L911.28,153.11 L912.28,153.78 L913.28,154.40 L914.28,154.98 L915.28,155.52 L916.28,156.01 L917.28,156.46 L918.28,156.87 L919.28,157.24 L920.28,157.56 L921.28,157.84 L922.29,158.08 L923.29,158.27 L924.29,158.41 L925.29,158.52 L926.29,158.57 L927.29,158.58 L928.29,158.54 L929.29,158.46 L930.29,158.33 L931.29,158.16 L932.29,157.93 L933.29,157.66 L934.29,157.34 L935.29,156.98 L936.29,156.57 L937.29,156.10 L938.29,155.59 L939.30,155.03 L940.30,154.43 L941.30,153.77 L942.30,153.06 L943.30,152.31 L944.30,151.50 L945.30,150.65 L946.30,149.74 L947.30,148.78 L948.30,147.78 L949.30,146.72 L950.30,145.61 L951.30,144.46 L952.30,143.25 L953.30,141.99 L954.30,140.68 L955.30,139.32 L956.30,137.90 L957.31,136.44 L958.31,134.92 L959.31,133.35 L960.31,131.73 L961.31,130.06 L962.31,128.33 L963.31,126.56 L964.31,124.73 L965.31,122.85 L966.31,120.91 L967.31,118.93 L968.31,116.89 L969.31,114.80 L970.31,112.65 L971.31,110.46 L972.31,108.21 L973.31,105.91 L974.31,103.55 L974.78,102.45" stroke="#0000ff" stroke-dasharray="3.6 3.35"/>
<path d="M614.52,294.61 L615.11,293.56 L616.11,291.78 L617.11,290.04 L618.11,288.35 L619.11,286.72 L620.11,285.12 L621.11,283.57 L622.11,282.06 L623.11,280.59 L624.12,279.15 L625.12,277.75 L626.12,276.38 L627.12,275.04 L628.12,273.73 L629.12,272.45 L630.12,271.20 L631.12,269.98 L632.12,268.77 L633.12,267.60 L634.12,266.44 L635.12,265.31 L636.12,264.19 L637.12,263.10 L638.12,262.03 L639.12,260.98 L640.12,259.94 L641.12,258.92 L642.13,257.92 L643.13,256.94 L644.13,255.97 L645.13,255.02 L646.13,254.08 L647.13,253.15 L648.13,252.24 L649.13,251.35 L650.13,250.46 L651.13,249.59 L652.13,248.73 L653.13,247.88 L654.13,247.05 L655.13,246.22 L656.13,245.41 L657.13,244.60 L658.13,243.81 L659.14,243.03 L660.14,242.25 L661.14,241.49 L662.14,240.73 L663.14,239.99 L664.14,239.25 L665.14,238.52 L666.14,237.80 L667.14,237.09 L668.14,236.38 L669.14,235.69 L670.14,235.00 L671.14,234.32 L672.14,233.64 L673.14,232.98 L674.14,232.32 L675.14,231.66 L676.14,231.01 L677.15,230.37 L678.15,229.74 L679.15,229.11 L680.15,228.49 L681.15,227.87 L682.15,227.26 L683.15,226.66 L684.15,226.06 L685.15,225.47 L686.15,224.88 L687.15,224.29 L688.15,223.72 L689.15,223.14 L690.15,222.58 L691.15,222.01 L692.15,221.45 L693.15,220.90 L694.16,220.35 L695.16,219.81 L696.16,219.27 L697.16,218.73 L698.16,218.20 L699.16,217.67 L700.16,217.15 L701.16,216.63 L702.16,216.12 L703.16,215.61 L704.16,215.10 L705.16,214.60 L706.16,214.10 L707.16,213.60 L708.16,213.11 L709.16,212.62 L710.16,212.13 L711.16,211.65 L712.17,211.17 L713.17,210.70 L714.17,210.23 L715.17,209.76 L716.17,209.29 L717.17,208.83 L718.17,208.37 L719.17,207.92 L720.17,207.47 L721.17,207.02 L722.17,206.57 L723.17,206.13 L724.17,205.69 L725.17,205.26 L726.17,204.82 L727.17,204.39 L728.17,203.97 L729.18,203.54 L730.18,203.12 L731.18,202.71 L732.18,202.29 L733.18,201.88 L734.18,201.47 L735.18,201.06 L736.18,200.66 L737.18,200.26 L738.18,199.86 L739.18,199.47 L740.18,199.08 L741.18,198.69 L742.18,198.30 L743.18,197.92 L744.18,197.54 L745.18,197.16 L746.18,196.79 L747.19,196.41 L748.19,196.04 L749.19,195.67 L750.19,195.31 L751.19,194.95 L752.19,194.59 L753.19,194.23 L754.19,193.87 L755.19,193.52 L756.19,193.17 L757.19,192.82 L758.19,192.48 L759.19,192.14 L760.19,191.80 L761.19,191.46 L762.19,191.12 L763.19,190.79 L764.20,190.46 L765.20,190.13 L766.20,189.80 L767.20,189.48 L768.20,189.15 L769.20,188.83 L770.20,188.52 L771.20,188.20 L772.20,187.89 L773.20,187.58 L774.20,187.27 L775.20,186.96 L776.20,186.65 L777.20,186.35 L778.20,186.05 L779.20,185.75 L780.20,185.45 L781.20,185.16 L782.21,184.86 L783.21,184.57 L784.21,184.28 L785.21,183.99 L786.21,183.70 L787.21,183.42 L788.21,183.13 L789.21,182.85 L790.21,182.57 L791.21,182.29 L792.21,182.01 L793.21,181.74 L794.21,181.46 L795.21,181.19 L796.21,180.91 L797.21,180.64 L798.21,180.37 L799.22,180.11 L800.22,179.84 L801.22,179.57 L802.22,179.31 L803.22,179.05 L804.22,178.78 L805.22,178.52 L806.22,178.26 L807.22,178.00 L808.22,177.75 L809.22,177.49 L810.22,177.24 L811.22,176.98 L812.22,176.73 L813.22,176.48 L814.22,176.23 L815.22,175.98 L816.22,175.73 L817.23,175.48 L818.23,175.23 L819.23,174.99 L820.23,174.74 L821.23,174.50 L822.23,174.26 L823.23,174.01 L824.23,173.77 L825.23,173.53 L826.23,173.29 L827.23,173.05 L828.23,172.82 L829.23,172.58 L830.23,172.34 L831.23,172.11 L832.23,171.87 L833.23,171.64 L834.24,171.41 L835.24,171.17 L836.24,170.94 L837.24,170.71 L838.24,170.48 L839.24,170.25 L840.24,170.03 L841.24,169.80 L842.24,169.57 L843.24,169.35 L844.24,169.13 L845.24,168.90 L846.24,168.68 L847.24,168.46 L848.24,168.24 L849.24,168.02 L850.24,167.80 L851.24,167.58 L852.25,167.37 L853.25,167.15 L854.25,166.94 L855.25,166.73 L856.25,166.51 L857.25,166.30 L858.25,166.09 L859.25,165.88 L860.25,165.67 L861.25,165.46 L862.25,165.26 L863.25,165.05 L864.25,164.83 L865.25,164.61 L866.25,164.39 L867.25,164.15 L868.25,163.91 L869.26,163.66 L870.26,163.40 L871.26,163.12 L872.26,162.84 L873.26,162.53 L874.26,162.22 L875.26,161.88 L876.26,161.54 L877.26,161.18 L878.26,160.81 L879.26,160.42 L880.26,160.03 L881.26,159.62 L882.26,159.21 L883.26,158.79 L884.26,158.36 L885.26,157.92 L886.26,157.47 L887.27,157.02 L888.27,156.56 L889.27,156.10 L890.27,155.63 L891.27,155.16 L892.27,154.69 L893.27,154.21 L894.27,153.73 L895.27,153.25 L896.27,152.77 L897.27,152.29 L898.27,151.81 L899.27,151.33 L900.27,150.85 L901.27,150.37 L902.27,149.89 L903.27,149.42 L904.28,148.95 L905.28,148.48 L906.28,148.02 L907.28,147.56 L908.28,147.10 L909.28,146.65 L910.28,146.21 L911.28,145.77 L912.28,145.34 L913.28,144.92 L914.28,144.51 L915.28,144.11 L916.28,143.71 L917.28,143.33 L918.28,142.96 L919.28,142.59 L920.28,142.24 L921.28,141.90 L922.29,141.58 L923.29,141.26 L924.29,140.96 L925.29,140.68 L926.29,140.41 L927.29,140.15 L928.29,139.91 L929.29,139.68 L930.29,139.47 L931.29,139.28 L932.29,139.10 L933.29,138.94 L934.29,138.80 L935.29,138.67 L936.29,138.57 L937.29,138.48 L938.29,138.41 L939.30,138.35 L940.30,138.31 L941.30,138.29 L942.30,138.27 L943.30,138.27 L944.30,138.29 L945.30,138.31 L946.30,138.34 L947.30,138.38 L948.30,138.43 L949.30,138.48 L950.30,138.54 L951.30,138.61 L952.30,138.67 L953.30,138.75 L954.30,138.82 L955.30,138.90 L956.30,138.98 L957.31,139.06 L958.31,139.13 L959.31,139.21 L960.31,139.28 L961.31,139.35 L962.31,139.42 L963.31,139.49 L964.31,139.54 L965.31,139.60 L966.31,139.64 L967.31,139.68 L968.31,139.72 L969.31,139.74 L970.31,139.76 L971.31,139.76 L972.31,139.76 L973.31,139.74 L974.31,139.71 L975.51,139.68" stroke="#ff0000" stroke-dasharray="3.6 3.35"/>
<path d="M614.36,300.69 L615.11,299.76 L616.11,298.51 L617.11,297.27 L618.11,296.05 L619.11,294.83 L620.11,293.62 L621.11,292.42 L622.11,291.24 L623.11,290.06 L624.12,288.90 L625.12,287.76 L626.12,286.62 L627.12,285.50 L628.12,284.38 L629.12,283.29 L630.12,282.20 L631.12,281.13 L632.12,280.07 L633.12,279.02 L634.12,277.98 L635.12,276.96 L636.12,275.95 L637.12,274.95 L638.12,273.96 L639.12,272.98 L640.12,272.02 L641.12,271.06 L642.13,270.12 L643.13,269.19 L644.13,268.27 L645.13,267.36 L646.13,266.46 L647.13,265.57 L648.13,264.69 L649.13,263.83 L650.13,262.97 L651.13,262.12 L652.13,261.28 L653.13,260.45 L654.13,259.63 L655.13,258.82 L656.13,258.02 L657.13,257.23 L658.13,256.44 L659.14,255.67 L660.14,254.90 L661.14,254.14 L662.14,253.39 L663.14,252.65 L664.14,251.92 L665.14,251.19 L666.14,250.48 L667.14,249.77 L668.14,249.06 L669.14,248.37 L670.14,247.68 L671.14,247.00 L672.14,246.32 L673.14,245.66 L674.14,245.00 L675.14,244.34 L676.14,243.70 L677.15,243.06 L678.15,242.42 L679.15,241.80 L680.15,241.17 L681.15,240.56 L682.15,239.95 L683.15,239.35 L684.15,238.75 L685.15,238.16 L686.15,237.58 L687.15,237.00 L688.15,236.42 L689.15,235.85 L690.15,235.29 L691.15,234.73 L692.15,234.18 L693.15,233.63 L694.16,233.09 L695.16,232.55 L696.16,232.02 L697.16,231.49 L698.16,230.97 L699.16,230.45 L700.16,229.94 L701.16,229.43 L702.16,228.92 L703.16,228.42 L704.16,227.92 L705.16,227.43 L706.16,226.93 L707.16,226.45 L708.16,225.96 L709.16,225.48 L710.16,225.00 L711.16,224.52 L712.17,224.05 L713.17,223.57 L714.17,223.10 L715.17,222.64 L716.17,222.17 L717.17,221.71 L718.17,221.24 L719.17,220.78 L720.17,220.33 L721.17,219.87 L722.17,219.41 L723.17,218.96 L724.17,218.51 L725.17,218.06 L726.17,217.61 L727.17,217.16 L728.17,216.71 L729.18,216.26 L730.18,215.82 L731.18,215.37 L732.18,214.93 L733.18,214.49 L734.18,214.05 L735.18,213.61 L736.18,213.17 L737.18,212.73 L738.18,212.29 L739.18,211.85 L740.18,211.41 L741.18,210.97 L742.18,210.53 L743.18,210.10 L744.18,209.66 L745.18,209.22 L746.18,208.79 L747.19,208.35 L748.19,207.92 L749.19,207.48 L750.19,207.05 L751.19,206.61 L752.19,206.18 L753.19,205.74 L754.19,205.31 L755.19,204.87 L756.19,204.44 L757.19,204.00 L758.19,203.57 L759.19,203.14 L760.19,202.70 L761.19,202.27 L762.19,201.83 L763.19,201.40 L764.20,200.96 L765.20,200.53 L766.20,200.09 L767.20,199.65 L768.20,199.22 L769.20,198.78 L770.20,198.35 L771.20,197.91 L772.20,197.47 L773.20,197.04 L774.20,196.60 L775.20,196.16 L776.20,195.73 L777.20,195.29 L778.20,194.85 L779.20,194.41 L780.20,193.97 L781.20,193.54 L782.21,193.10 L783.21,192.66 L784.21,192.22 L785.21,191.78 L786.21,191.35 L787.21,190.91 L788.21,190.47 L789.21,190.03 L790.21,189.59 L791.21,189.15 L792.21,188.71 L793.21,188.28 L794.21,187.84 L795.21,187.40 L796.21,186.96 L797.21,186.52 L798.21,186.08 L799.22,185.64 L800.22,185.21 L801.22,184.77 L802.22,184.33 L803.22,183.89 L804.22,183.45 L805.22,183.02 L806.22,182.58 L807.22,182.14 L808.22,181.70 L809.22,181.26 L810.22,180.83 L811.22,180.39 L812.22,179.95 L813.22,179.51 L814.22,179.07 L815.22,178.63 L816.22,178.18 L817.23,177.73 L818.23,177.27 L819.23,176.81 L820.23,176.34 L821.23,175.87 L822.23,175.39 L823.23,174.90 L824.23,174.40 L825.23,173.90 L826.23,173.38 L827.23,172.85 L828.23,172.32 L829.23,171.77 L830.23,171.21 L831.23,170.64 L832.23,170.06 L833.23,169.46 L834.24,168.85 L835.24,168.23 L836.24,167.59 L837.24,166.94 L838.24,166.28 L839.24,165.59 L840.24,164.90 L841.24,164.18 L842.24,163.45 L843.24,162.71 L844.24,161.96 L845.24,161.21 L846.24,160.45 L847.24,159.70 L848.24,158.94 L849.24,158.20 L850.24,157.46 L851.24,156.73 L852.25,156.02 L853.25,155.32 L854.25,154.65 L855.25,153.99 L856.25,153.36 L857.25,152.76 L858.25,152.18 L859.25,151.64 L860.25,151.13 L861.25,150.66 L862.25,150.22 L863.25,149.82 L864.25,149.47 L865.25,149.16 L866.25,148.89 L867.25,148.67 L868.25,148.50 L869.26,148.38 L870.26,148.32 L871.26,148.31 L872.26,148.36 L873.26,148.46 L874.26,148.63 L875.26,148.86 L876.26,149.16 L877.26,149.53 L878.26,149.97 L879.26,150.50 L880.26,151.10 L881.26,151.78 L882.26,152.56 L883.26,153.42 L884.26,154.37 L885.26,155.41 L886.26,156.56 L887.27,157.80 L888.27,159.14 L889.27,160.59 L890.27,162.12 L891.27,163.65 L892.27,165.16 L893.27,166.63 L894.27,168.06 L895.27,169.44 L896.27,170.76 L897.27,172.01 L898.27,173.21 L899.27,174.36 L900.27,175.45 L901.27,176.50 L902.27,177.50 L903.27,178.45 L904.28,179.36 L905.28,180.23 L906.28,181.06 L907.28,181.86 L908.28,182.61 L909.28,183.32 L910.28,183.99 L911.28,184.62 L912.28,185.22 L913.28,185.78 L914.28,186.30 L915.28,186.79 L916.28,187.24 L917.28,187.66 L918.28,188.04 L919.28,188.39 L920.28,188.70 L921.28,188.98 L922.29,189.23 L923.29,189.44 L924.29,189.62 L925.29,189.77 L926.29,189.89 L927.29,189.98 L928.29,190.04 L929.29,190.07 L930.29,190.07 L931.29,190.03 L932.29,189.97 L933.29,189.88 L934.29,189.77 L935.29,189.62 L936.29,189.45 L937.29,189.25 L938.29,189.02 L939.30,188.77 L940.30,188.49 L941.30,188.19 L942.30,187.86 L943.30,187.50 L944.30,187.12 L945.30,186.70 L946.30,186.26 L947.30,185.79 L948.30,185.28 L949.30,184.75 L950.30,184.18 L951.30,183.58 L952.30,182.95 L953.30,182.28 L954.30,181.58 L955.30,180.84 L956.30,180.07 L957.31,179.26 L958.31,178.41 L959.31,177.53 L960.31,176.60 L961.31,175.64 L962.31,174.64 L963.31,173.60 L964.31,172.51 L965.31,171.39 L966.31,170.22 L967.31,169.01 L968.31,167.76 L969.31,166.47 L970.31,165.13 L971.31,163.74 L972.31,162.32 L973.31,160.84 L974.31,159.33 L974.98,158.32" stroke="#0000ff" stroke-dasharray="7.0 4.1"/>
<path d="M614.52,306.04 L615.11,304.99 L616.11,303.21 L617.11,301.48 L618.11,299.81 L619.11,298.18 L620.11,296.61 L621.11,295.08 L622.11,293.59 L623.11,292.14 L624.12,290.73 L625.12,289.36 L626.12,288.02 L627.12,286.71 L628.12,285.43 L629.12,284.19 L630.12,282.97 L631.12,281.77 L632.12,280.61 L633.12,279.47 L634.12,278.35 L635.12,277.25 L636.12,276.18 L637.12,275.13 L638.12,274.10 L639.12,273.08 L640.12,272.09 L641.12,271.11 L642.13,270.15 L643.13,269.21 L644.13,268.28 L645.13,267.37 L646.13,266.47 L647.13,265.59 L648.13,264.72 L649.13,263.86 L650.13,263.02 L651.13,262.19 L652.13,261.37 L653.13,260.57 L654.13,259.77 L655.13,258.99 L656.13,258.22 L657.13,257.46 L658.13,256.71 L659.14,255.96 L660.14,255.23 L661.14,254.51 L662.14,253.80 L663.14,253.09 L664.14,252.40 L665.14,251.71 L666.14,251.03 L667.14,250.36 L668.14,249.69 L669.14,249.04 L670.14,248.39 L671.14,247.75 L672.14,247.12 L673.14,246.49 L674.14,245.87 L675.14,245.25 L676.14,244.65 L677.15,244.05 L678.15,243.45 L679.15,242.86 L680.15,242.28 L681.15,241.70 L682.15,241.13 L683.15,240.56 L684.15,240.00 L685.15,239.45 L686.15,238.90 L687.15,238.35 L688.15,237.81 L689.15,237.28 L690.15,236.75 L691.15,236.22 L692.15,235.70 L693.15,235.19 L694.16,234.68 L695.16,234.17 L696.16,233.67 L697.16,233.17 L698.16,232.68 L699.16,232.19 L700.16,231.71 L701.16,231.23 L702.16,230.75 L703.16,230.28 L704.16,229.81 L705.16,229.35 L706.16,228.89 L707.16,228.43 L708.16,227.98 L709.16,227.53 L710.16,227.09 L711.16,226.65 L712.17,226.21 L713.17,225.78 L714.17,225.35 L715.17,224.93 L716.17,224.50 L717.17,224.08 L718.17,223.67 L719.17,223.26 L720.17,222.85 L721.17,222.44 L722.17,222.04 L723.17,221.64 L724.17,221.25 L725.17,220.85 L726.17,220.46 L727.17,220.08 L728.17,219.69 L729.18,219.31 L730.18,218.94 L731.18,218.56 L732.18,218.19 L733.18,217.82 L734.18,217.46 L735.18,217.09 L736.18,216.73 L737.18,216.37 L738.18,216.02 L739.18,215.67 L740.18,215.32 L741.18,214.97 L742.18,214.63 L743.18,214.28 L744.18,213.94 L745.18,213.61 L746.18,213.27 L747.19,212.94 L748.19,212.61 L749.19,212.28 L750.19,211.96 L751.19,211.64 L752.19,211.32 L753.19,211.00 L754.19,210.68 L755.19,210.37 L756.19,210.06 L757.19,209.75 L758.19,209.44 L759.19,209.14 L760.19,208.84 L761.19,208.54 L762.19,208.24 L763.19,207.94 L764.20,207.65 L765.20,207.35 L766.20,207.06 L767.20,206.78 L768.20,206.49 L769.20,206.21 L770.20,205.92 L771.20,205.64 L772.20,205.36 L773.20,205.09 L774.20,204.81 L775.20,204.54 L776.20,204.27 L777.20,204.00 L778.20,203.73 L779.20,203.47 L780.20,203.20 L781.20,202.94 L782.21,202.68 L783.21,202.42 L784.21,202.16 L785.21,201.91 L786.21,201.66 L787.21,201.40 L788.21,201.15 L789.21,200.90 L790.21,200.66 L791.21,200.41 L792.21,200.17 L793.21,199.92 L794.21,199.68 L795.21,199.44 L796.21,199.21 L797.21,198.97 L798.21,198.74 L799.22,198.50 L800.22,198.27 L801.22,198.04 L802.22,197.81 L803.22,197.58 L804.22,197.36 L805.22,197.13 L806.22,196.91 L807.22,196.69 L808.22,196.47 L809.22,196.25 L810.22,196.03 L811.22,195.81 L812.22,195.60 L813.22,195.38 L814.22,195.17 L815.22,194.96 L816.22,194.75 L817.23,194.54 L818.23,194.33 L819.23,194.13 L820.23,193.92 L821.23,193.72 L822.23,193.51 L823.23,193.31 L824.23,193.11 L825.23,192.91 L826.23,192.72 L827.23,192.52 L828.23,192.32 L829.23,192.13 L830.23,191.94 L831.23,191.74 L832.23,191.55 L833.23,191.36 L834.24,191.17 L835.24,190.98 L836.24,190.80 L837.24,190.61 L838.24,190.42 L839.24,190.23 L840.24,190.04 L841.24,189.85 L842.24,189.67 L843.24,189.48 L844.24,189.28 L845.24,189.09 L846.24,188.90 L847.24,188.71 L848.24,188.51 L849.24,188.32 L850.24,188.12 L851.24,187.92 L852.25,187.72 L853.25,187.52 L854.25,187.31 L855.25,187.11 L856.25,186.90 L857.25,186.69 L858.25,186.48 L859.25,186.26 L860.25,186.05 L861.25,185.83 L862.25,185.60 L863.25,185.38 L864.25,185.15 L865.25,184.92 L866.25,184.69 L867.25,184.45 L868.25,184.21 L869.26,183.97 L870.26,183.72 L871.26,183.47 L872.26,183.22 L873.26,182.96 L874.26,182.68 L875.26,182.40 L876.26,182.11 L877.26,181.79 L878.26,181.47 L879.26,181.12 L880.26,180.76 L881.26,180.37 L882.26,179.97 L883.26,179.53 L884.26,179.08 L885.26,178.59 L886.26,178.08 L887.27,177.54 L888.27,176.98 L889.27,176.39 L890.27,175.79 L891.27,175.16 L892.27,174.52 L893.27,173.86 L894.27,173.19 L895.27,172.51 L896.27,171.81 L897.27,171.11 L898.27,170.41 L899.27,169.70 L900.27,168.98 L901.27,168.27 L902.27,167.55 L903.27,166.84 L904.28,166.13 L905.28,165.43 L906.28,164.73 L907.28,164.05 L908.28,163.38 L909.28,162.73 L910.28,162.09 L911.28,161.47 L912.28,160.87 L913.28,160.29 L914.28,159.74 L915.28,159.21 L916.28,158.70 L917.28,158.22 L918.28,157.77 L919.28,157.35 L920.28,156.95 L921.28,156.58 L922.29,156.24 L923.29,155.93 L924.29,155.65 L925.29,155.39 L926.29,155.17 L927.29,154.98 L928.29,154.81 L929.29,154.68 L930.29,154.56 L931.29,154.48 L932.29,154.42 L933.29,154.38 L934.29,154.36 L935.29,154.36 L936.29,154.39 L937.29,154.43 L938.29,154.49 L939.30,154.57 L940.30,154.66 L941.30,154.77 L942.30,154.90 L943.30,155.03 L944.30,155.18 L945.30,155.34 L946.30,155.51 L947.30,155.70 L948.30,155.89 L949.30,156.08 L950.30,156.29 L951.30,156.50 L952.30,156.72 L953.30,156.94 L954.30,157.16 L955.30,157.39 L956.30,157.62 L957.31,157.85 L958.31,158.08 L959.31,158.31 L960.31,158.54 L961.31,158.76 L962.31,158.99 L963.31,159.21 L964.31,159.42 L965.31,159.63 L966.31,159.84 L967.31,160.04 L968.31,160.23 L969.31,160.42 L970.31,160.60 L971.31,160.76 L972.31,160.92 L973.31,161.07 L974.31,161.21 L975.50,161.37" stroke="#ff0000" stroke-dasharray="7.0 4.1"/>
</g>
<path d="M580.90,345.75 v-5.6 M580.90,18.0 v5.6 M598.00,345.75 v-3.5 M598.00,18.0 v3.5 M615.11,345.75 v-3.5 M615.11,18.0 v3.5 M632.21,345.75 v-3.5 M632.21,18.0 v3.5 M649.32,345.75 v-5.6 M649.32,18.0 v5.6 M666.42,345.75 v-3.5 M666.42,18.0 v3.5 M683.53,345.75 v-3.5 M683.53,18.0 v3.5 M700.63,345.75 v-3.5 M700.63,18.0 v3.5 M717.74,345.75 v-5.6 M717.74,18.0 v5.6 M734.85,345.75 v-3.5 M734.85,18.0 v3.5 M751.95,345.75 v-3.5 M751.95,18.0 v3.5 M769.05,345.75 v-3.5 M769.05,18.0 v3.5 M786.16,345.75 v-5.6 M786.16,18.0 v5.6 M803.26,345.75 v-3.5 M803.26,18.0 v3.5 M820.37,345.75 v-3.5 M820.37,18.0 v3.5 M837.47,345.75 v-3.5 M837.47,18.0 v3.5 M854.58,345.75 v-5.6 M854.58,18.0 v5.6 M871.68,345.75 v-3.5 M871.68,18.0 v3.5 M888.79,345.75 v-3.5 M888.79,18.0 v3.5 M905.89,345.75 v-3.5 M905.89,18.0 v3.5 M923.00,345.75 v-5.6 M923.00,18.0 v5.6 M940.11,345.75 v-3.5 M940.11,18.0 v3.5 M957.21,345.75 v-3.5 M957.21,18.0 v3.5 M974.31,345.75 v-3.5 M974.31,18.0 v3.5" stroke="#000" stroke-width="1.45" fill="none"/>
<path d="M572.9,340.21 h2.3 M982.6,340.21 h-2.3 M572.9,335.28 h2.3 M982.6,335.28 h-2.3 M572.9,330.94 h2.3 M982.6,330.94 h-2.3 M572.9,327.05 h4.0 M982.6,327.05 h-4.0 M572.9,301.48 h2.3 M982.6,301.48 h-2.3 M572.9,286.52 h2.3 M982.6,286.52 h-2.3 M572.9,275.91 h2.3 M982.6,275.91 h-2.3 M572.9,267.67 h2.3 M982.6,267.67 h-2.3 M572.9,260.95 h2.3 M982.6,260.95 h-2.3 M572.9,255.26 h2.3 M982.6,255.26 h-2.3 M572.9,250.33 h2.3 M982.6,250.33 h-2.3 M572.9,245.99 h2.3 M982.6,245.99 h-2.3 M572.9,242.10 h4.0 M982.6,242.10 h-4.0 M572.9,216.53 h2.3 M982.6,216.53 h-2.3 M572.9,201.57 h2.3 M982.6,201.57 h-2.3 M572.9,190.96 h2.3 M982.6,190.96 h-2.3 M572.9,182.72 h2.3 M982.6,182.72 h-2.3 M572.9,176.00 h2.3 M982.6,176.00 h-2.3 M572.9,170.31 h2.3 M982.6,170.31 h-2.3 M572.9,165.38 h2.3 M982.6,165.38 h-2.3 M572.9,161.04 h2.3 M982.6,161.04 h-2.3 M572.9,157.15 h4.0 M982.6,157.15 h-4.0 M572.9,131.58 h2.3 M982.6,131.58 h-2.3 M572.9,116.62 h2.3 M982.6,116.62 h-2.3 M572.9,106.01 h2.3 M982.6,106.01 h-2.3 M572.9,97.77 h2.3 M982.6,97.77 h-2.3 M572.9,91.05 h2.3 M982.6,91.05 h-2.3 M572.9,85.36 h2.3 M982.6,85.36 h-2.3 M572.9,80.43 h2.3 M982.6,80.43 h-2.3 M572.9,76.09 h2.3 M982.6,76.09 h-2.3 M572.9,72.20 h4.0 M982.6,72.20 h-4.0 M572.9,46.63 h2.3 M982.6,46.63 h-2.3 M572.9,31.67 h2.3 M982.6,31.67 h-2.3 M572.9,21.06 h2.3 M982.6,21.06 h-2.3" stroke="#000" stroke-width="1.3" fill="none"/>
<rect x="572.9" y="18.0" width="409.70" height="327.75" fill="none" stroke="#000" stroke-width="1.5"/>
<text x="580.90" y="367.8" font-size="18.7" text-anchor="middle">0</text>
<text x="649.32" y="367.8" font-size="18.7" text-anchor="middle">20</text>
<text x="717.74" y="367.8" font-size="18.7" text-anchor="middle">40</text>
<text x="786.16" y="367.8" font-size="18.7" text-anchor="middle">60</text>
<text x="854.58" y="367.8" font-size="18.7" text-anchor="middle">80</text>
<path d="M763 0H583V1147Q518 1085 412.5 1023T223 930V1104Q373 1174.5 485 1275T644 1466H763Z" transform="translate(907.40,367.80) scale(0.00913,-0.00877)" fill="#000"/>
<text x="917.80" y="367.8" font-size="18.7" letter-spacing="-0.35">00</text>
<path d="M763 0H583V1147Q518 1085 412.5 1023T223 930V1104Q373 1174.5 485 1275T644 1466H763Z" transform="translate(532.80,79.50) scale(0.00913,-0.00877)" fill="#000"/>
<text x="542.40" y="79.50" font-size="18.7">0</text>
<text x="553.10" y="71.40" font-size="13"><tspan dy="2.0">−</tspan><tspan dy="-2.0">2</tspan></text>
<path d="M763 0H583V1147Q518 1085 412.5 1023T223 930V1104Q373 1174.5 485 1275T644 1466H763Z" transform="translate(532.80,164.45) scale(0.00913,-0.00877)" fill="#000"/>
<text x="542.40" y="164.45" font-size="18.7">0</text>
<text x="553.10" y="156.35" font-size="13"><tspan dy="2.0">−</tspan><tspan dy="-2.0">3</tspan></text>
<path d="M763 0H583V1147Q518 1085 412.5 1023T223 930V1104Q373 1174.5 485 1275T644 1466H763Z" transform="translate(532.80,249.40) scale(0.00913,-0.00877)" fill="#000"/>
<text x="542.40" y="249.40" font-size="18.7">0</text>
<text x="553.10" y="241.30" font-size="13"><tspan dy="2.0">−</tspan><tspan dy="-2.0">4</tspan></text>
<path d="M763 0H583V1147Q518 1085 412.5 1023T223 930V1104Q373 1174.5 485 1275T644 1466H763Z" transform="translate(532.80,334.35) scale(0.00913,-0.00877)" fill="#000"/>
<text x="542.40" y="334.35" font-size="18.7">0</text>
<text x="553.10" y="326.25" font-size="13"><tspan dy="2.0">−</tspan><tspan dy="-2.0">5</tspan></text>
<text y="398.15" font-size="17.6"><tspan x="733.85" font-style="italic">s</tspan><tspan x="747.80">[</tspan><tspan x="752.65" font-style="italic">h</tspan><tspan x="762.85" dy="-6.2" font-size="13">−</tspan><tspan x="783.00" dy="6.2" letter-spacing="0.25">Mpc]</tspan></text>
<path d="M763 0H583V1147Q518 1085 412.5 1023T223 930V1104Q373 1174.5 485 1275T644 1466H763Z" transform="translate(770.14,390.55) scale(0.00635,-0.00610)" fill="#000"/>
<g transform="translate(517.90,0) rotate(-90)"><text x="-241.20" y="0" font-size="18.5" font-style="italic">ξ</text><g transform="translate(-232.80,5.00)" fill="none" stroke="#000" stroke-linecap="round" stroke-linejoin="round"><path d="M0.2,-3.3 C1.9,-4.1 4.9,-6.7 6.1,-9.1 C7.0,-10.9 7.0,-11.9 6.1,-11.9" stroke-width="0.75"/><path d="M6.1,-11.9 C4.8,-11.9 3.2,-9.4 2.4,-6.5 C1.7,-4 1.3,-1.9 1.5,-1.0" stroke-width="1.45"/><path d="M1.5,-1.0 C1.7,0 2.4,0.1 3.0,-0.3 C3.5,-0.7 3.8,-1.1 4.0,-1.5" stroke-width="0.95"/></g><text x="-224.90" y="0" font-size="18" >(s,x)</text><text x="-184.90" y="0" font-size="18" >/</text><text x="-174.70" y="0" font-size="18.5" font-style="italic">ξ</text><text x="-165.80" y="-8.0" font-size="12" >pp</text><g transform="translate(-150.60,5.00)" fill="none" stroke="#000" stroke-linecap="round" stroke-linejoin="round"><path d="M0.2,-3.3 C1.9,-4.1 4.9,-6.7 6.1,-9.1 C7.0,-10.9 7.0,-11.9 6.1,-11.9" stroke-width="0.75"/><path d="M6.1,-11.9 C4.8,-11.9 3.2,-9.4 2.4,-6.5 C1.7,-4 1.3,-1.9 1.5,-1.0" stroke-width="1.45"/><path d="M1.5,-1.0 C1.7,0 2.4,0.1 3.0,-0.3 C3.5,-0.7 3.8,-1.1 4.0,-1.5" stroke-width="0.95"/></g><text x="-142.60" y="0" font-size="18" >(s)</text></g>
<text y="57.6" font-size="17"><tspan x="117.10" font-style="italic">z</tspan><tspan x="129.80" dy="1.6">=</tspan><tspan x="144.45" dy="-1.6" letter-spacing="-0.15">0.3</tspan></text>
<text y="57.6" font-size="17"><tspan x="609.10" font-style="italic">z</tspan><tspan x="621.80" dy="1.6">=</tspan></text>
<path d="M763 0H583V1147Q518 1085 412.5 1023T223 930V1104Q373 1174.5 485 1275T644 1466H763Z" transform="translate(636.45,57.60) scale(0.00830,-0.00798)" fill="#000"/>
<text x="645.91" y="57.6" font-size="17" letter-spacing="-0.15">.0</text>
<line x1="359.2" x2="387.1" y1="263.40" y2="263.40" stroke="#0000ff" stroke-width="1.7"/>
<g transform="translate(395.80,264.60)" fill="none" stroke="#000" stroke-linecap="round" stroke-linejoin="round"><path d="M0.2,-3.3 C1.9,-4.1 4.9,-6.7 6.1,-9.1 C7.0,-10.9 7.0,-11.9 6.1,-11.9" stroke-width="0.75"/><path d="M6.1,-11.9 C4.8,-11.9 3.2,-9.4 2.4,-6.5 C1.7,-4 1.3,-1.9 1.5,-1.0" stroke-width="1.45"/><path d="M1.5,-1.0 C1.7,0 2.4,0.1 3.0,-0.3 C3.5,-0.7 3.8,-1.1 4.0,-1.5" stroke-width="0.95"/></g>
<rect x="408.9" y="257.15" width="10" height="1.5" fill="#222"/><rect x="408.9" y="261.75" width="10" height="1.5" fill="#222"/>
<text x="425.1" y="264.60" style="font-family:'Liberation Serif',serif" font-size="18.5" textLength="10.15" lengthAdjust="spacingAndGlyphs">0</text>
<line x1="359.2" x2="387.1" y1="290.60" y2="290.60" stroke="#ff0000" stroke-width="1.7"/>
<g transform="translate(395.80,291.70)" fill="none" stroke="#000" stroke-linecap="round" stroke-linejoin="round"><path d="M0.2,-3.3 C1.9,-4.1 4.9,-6.7 6.1,-9.1 C7.0,-10.9 7.0,-11.9 6.1,-11.9" stroke-width="0.75"/><path d="M6.1,-11.9 C4.8,-11.9 3.2,-9.4 2.4,-6.5 C1.7,-4 1.3,-1.9 1.5,-1.0" stroke-width="1.45"/><path d="M1.5,-1.0 C1.7,0 2.4,0.1 3.0,-0.3 C3.5,-0.7 3.8,-1.1 4.0,-1.5" stroke-width="0.95"/></g>
<rect x="408.9" y="284.25" width="10" height="1.5" fill="#222"/><rect x="408.9" y="288.85" width="10" height="1.5" fill="#222"/>
<text x="425.1" y="291.70" style="font-family:'Liberation Serif',serif" font-size="18.5" textLength="10.15" lengthAdjust="spacingAndGlyphs">2</text>
<line x1="359.2" x2="387.1" y1="318.10" y2="318.10" stroke="#00a800" stroke-width="1.7"/>
<g transform="translate(395.80,319.30)" fill="none" stroke="#000" stroke-linecap="round" stroke-linejoin="round"><path d="M0.2,-3.3 C1.9,-4.1 4.9,-6.7 6.1,-9.1 C7.0,-10.9 7.0,-11.9 6.1,-11.9" stroke-width="0.75"/><path d="M6.1,-11.9 C4.8,-11.9 3.2,-9.4 2.4,-6.5 C1.7,-4 1.3,-1.9 1.5,-1.0" stroke-width="1.45"/><path d="M1.5,-1.0 C1.7,0 2.4,0.1 3.0,-0.3 C3.5,-0.7 3.8,-1.1 4.0,-1.5" stroke-width="0.95"/></g>
<rect x="408.9" y="311.85" width="10" height="1.5" fill="#222"/><rect x="408.9" y="316.45" width="10" height="1.5" fill="#222"/>
<text x="425.1" y="319.30" style="font-family:'Liberation Serif',serif" font-size="18.5" textLength="10.15" lengthAdjust="spacingAndGlyphs">4</text>
<line x1="815.3" x2="843.4" y1="261.85" y2="261.85" stroke="#000" stroke-width="1.6"/>
<line x1="815.3" x2="843.4" y1="289.0" y2="289.0" stroke="#000" stroke-width="1.6" stroke-dasharray="2.9 4.05"/>
<line x1="815.3" x2="843.4" y1="316.2" y2="316.2" stroke="#000" stroke-width="1.6" stroke-dasharray="7.0 4.2"/>
<text x="851.9" y="263.0" font-size="18">Wide angle</text>
<text y="290.6" font-size="18"><tspan x="852.4" font-style="italic" font-size="18.3" textLength="11.4" lengthAdjust="spacingAndGlyphs">α</tspan><tspan x="869.0" font-size="18">−</tspan><tspan x="884.6">terms</tspan></text>
<text x="851.9" y="317.5" font-size="18">total</text>
</g>
</svg></body></html>
